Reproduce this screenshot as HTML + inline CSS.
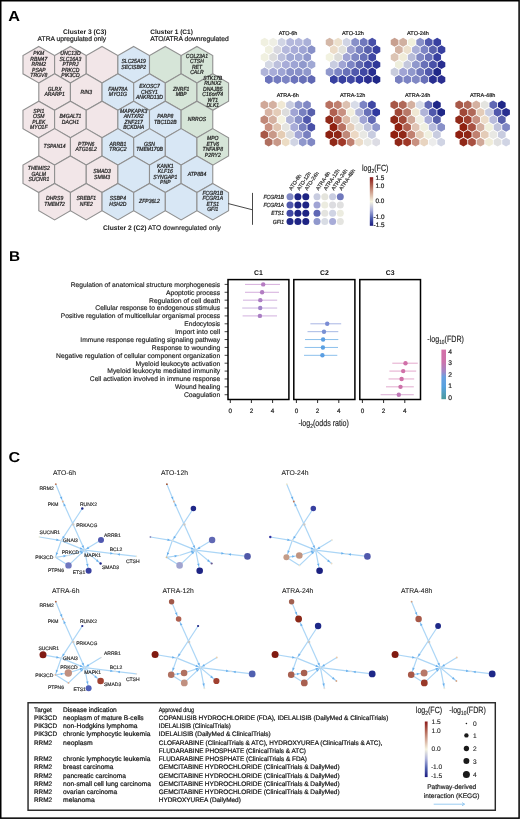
<!DOCTYPE html>
<html><head><meta charset="utf-8"><style>
html,body{margin:0;padding:0;background:#fff;}
body{width:520px;height:819px;overflow:hidden;}
svg{display:block;font-family:"Liberation Sans", sans-serif;will-change:transform;text-rendering:geometricPrecision;}
</style></head><body>
<svg width="520" height="819" viewBox="0 0 520 819">
<rect x="0" y="0" width="520" height="819" fill="#fff"/>
<text transform="translate(8.3,20.9) scale(1.13,1)" style="font-size:14.4px;font-weight:bold" fill="#000">A</text>
<text transform="translate(9.0,261.3) scale(1.08,1)" style="font-size:14.2px;font-weight:bold" fill="#000">B</text>
<text transform="translate(8.6,461.9) scale(1.12,1)" style="font-size:14.4px;font-weight:bold" fill="#000">C</text>
<text x="106.50" y="33.80" text-anchor="end" style="font-size:6.7px;font-weight:bold;" fill="#111" >Cluster 3 (C3)</text>
<text x="106.20" y="41.00" text-anchor="end" style="font-size:6.72px;" fill="#222"  stroke="#222" stroke-width="0.2">ATRA upregulated only</text>
<text x="150.30" y="33.50" text-anchor="start" style="font-size:6.55px;font-weight:bold;" fill="#111" >Cluster 1 (C1)</text>
<text x="150.30" y="41.00" text-anchor="start" style="font-size:6.75px;" fill="#222"  stroke="#222" stroke-width="0.2">ATO/ATRA downregulated</text>
<text x="103" y="230.3" style="font-size:6.7px" fill="#222" stroke="#222" stroke-width="0.15"><tspan font-weight="bold" stroke-width="0.05">Cluster 2 (C2)</tspan> ATO downregulated only</text>
<g stroke="#909090" stroke-width="1.1">
<polygon points="38.80,46.44 54.61,55.57 54.61,73.83 38.80,82.96 22.98,73.83 22.98,55.57" fill="#f2e6e8"/>
<polygon points="70.43,46.44 86.24,55.57 86.24,73.83 70.43,82.96 54.61,73.83 54.61,55.57" fill="#f2e6e8"/>
<polygon points="102.06,46.44 117.88,55.57 117.88,73.83 102.06,82.96 86.25,73.83 86.25,55.57" fill="#f2e6e8"/>
<polygon points="133.69,46.44 149.50,55.57 149.50,73.83 133.69,82.96 117.88,73.83 117.88,55.57" fill="#d8e7f5"/>
<polygon points="165.32,46.44 181.13,55.57 181.13,73.83 165.32,82.96 149.50,73.83 149.50,55.57" fill="#d6e5d8"/>
<polygon points="196.95,46.44 212.76,55.57 212.76,73.83 196.95,82.96 181.13,73.83 181.13,55.57" fill="#d6e5d8"/>
<polygon points="54.61,73.83 70.43,82.96 70.43,101.22 54.61,110.35 38.80,101.22 38.80,82.96" fill="#f2e6e8"/>
<polygon points="86.24,73.83 102.06,82.96 102.06,101.22 86.24,110.35 70.43,101.22 70.43,82.96" fill="#f2e6e8"/>
<polygon points="117.88,73.83 133.69,82.96 133.69,101.22 117.88,110.35 102.06,101.22 102.06,82.96" fill="#d8e7f5"/>
<polygon points="149.50,73.83 165.32,82.96 165.32,101.22 149.50,110.35 133.69,101.22 133.69,82.96" fill="#d8e7f5"/>
<polygon points="181.13,73.83 196.95,82.96 196.95,101.22 181.13,110.35 165.32,101.22 165.32,82.96" fill="#d6e5d8"/>
<polygon points="212.76,73.83 228.58,82.96 228.58,101.22 212.76,110.35 196.95,101.22 196.95,82.96" fill="#d6e5d8"/>
<polygon points="38.80,101.22 54.61,110.35 54.61,128.62 38.80,137.75 22.98,128.62 22.98,110.35" fill="#f2e6e8"/>
<polygon points="70.43,101.22 86.24,110.35 86.24,128.62 70.43,137.75 54.61,128.62 54.61,110.35" fill="#f2e6e8"/>
<polygon points="102.06,101.22 117.88,110.35 117.88,128.62 102.06,137.75 86.25,128.62 86.25,110.35" fill="#f2e6e8"/>
<polygon points="133.69,101.22 149.50,110.35 149.50,128.62 133.69,137.75 117.88,128.62 117.88,110.35" fill="#d8e7f5"/>
<polygon points="165.32,101.22 181.13,110.35 181.13,128.62 165.32,137.75 149.50,128.62 149.50,110.35" fill="#d8e7f5"/>
<polygon points="196.95,101.22 212.76,110.35 212.76,128.62 196.95,137.75 181.13,128.62 181.13,110.35" fill="#d6e5d8"/>
<polygon points="54.61,128.62 70.43,137.75 70.43,156.01 54.61,165.14 38.80,156.01 38.80,137.75" fill="#f2e6e8"/>
<polygon points="86.24,128.62 102.06,137.75 102.06,156.01 86.24,165.14 70.43,156.01 70.43,137.75" fill="#f2e6e8"/>
<polygon points="117.88,128.62 133.69,137.75 133.69,156.01 117.88,165.14 102.06,156.01 102.06,137.75" fill="#d8e7f5"/>
<polygon points="149.50,128.62 165.32,137.75 165.32,156.01 149.50,165.14 133.69,156.01 133.69,137.75" fill="#d8e7f5"/>
<polygon points="181.13,128.62 196.95,137.75 196.95,156.01 181.13,165.14 165.32,156.01 165.32,137.75" fill="#d8e7f5"/>
<polygon points="212.76,128.62 228.58,137.75 228.58,156.01 212.76,165.14 196.95,156.01 196.95,137.75" fill="#d6e5d8"/>
<polygon points="38.80,156.01 54.61,165.14 54.61,183.40 38.80,192.53 22.98,183.40 22.98,165.14" fill="#f2e6e8"/>
<polygon points="70.43,156.01 86.24,165.14 86.24,183.40 70.43,192.53 54.61,183.40 54.61,165.14" fill="#f2e6e8"/>
<polygon points="102.06,156.01 117.88,165.14 117.88,183.40 102.06,192.53 86.25,183.40 86.25,165.14" fill="#f2e6e8"/>
<polygon points="133.69,156.01 149.50,165.14 149.50,183.40 133.69,192.53 117.88,183.40 117.88,165.14" fill="#d8e7f5"/>
<polygon points="165.32,156.01 181.13,165.14 181.13,183.40 165.32,192.53 149.50,183.40 149.50,165.14" fill="#d8e7f5"/>
<polygon points="196.95,156.01 212.76,165.14 212.76,183.40 196.95,192.53 181.13,183.40 181.13,165.14" fill="#d8e7f5"/>
<polygon points="54.61,183.40 70.43,192.53 70.43,210.79 54.61,219.92 38.80,210.79 38.80,192.53" fill="#f2e6e8"/>
<polygon points="86.24,183.40 102.06,192.53 102.06,210.79 86.24,219.92 70.43,210.79 70.43,192.53" fill="#f2e6e8"/>
<polygon points="117.88,183.40 133.69,192.53 133.69,210.79 117.88,219.92 102.06,210.79 102.06,192.53" fill="#d8e7f5"/>
<polygon points="149.50,183.40 165.32,192.53 165.32,210.79 149.50,219.92 133.69,210.79 133.69,192.53" fill="#d8e7f5"/>
<polygon points="181.13,183.40 196.95,192.53 196.95,210.79 181.13,219.92 165.32,210.79 165.32,192.53" fill="#d8e7f5"/>
<polygon points="212.76,183.40 228.58,192.53 228.58,210.79 212.76,219.92 196.95,210.79 196.95,192.53" fill="#d8e7f5"/>
</g>
<text transform="translate(38.80,55.20) scale(0.86,1)" text-anchor="middle" style="font-size:5.9px;font-style:italic;" fill="#222"  stroke="#222" stroke-width="0.24">PKM</text>
<text transform="translate(38.80,60.70) scale(0.86,1)" text-anchor="middle" style="font-size:5.9px;font-style:italic;" fill="#222"  stroke="#222" stroke-width="0.24">RBM47</text>
<text transform="translate(38.80,66.20) scale(0.86,1)" text-anchor="middle" style="font-size:5.9px;font-style:italic;" fill="#222"  stroke="#222" stroke-width="0.24">RRM2</text>
<text transform="translate(38.80,71.70) scale(0.86,1)" text-anchor="middle" style="font-size:5.9px;font-style:italic;" fill="#222"  stroke="#222" stroke-width="0.24">PSAP</text>
<text transform="translate(38.80,77.20) scale(0.86,1)" text-anchor="middle" style="font-size:5.9px;font-style:italic;" fill="#222"  stroke="#222" stroke-width="0.24">TRGV8</text>
<text transform="translate(70.43,55.20) scale(0.86,1)" text-anchor="middle" style="font-size:5.9px;font-style:italic;" fill="#222"  stroke="#222" stroke-width="0.24">UNC13D</text>
<text transform="translate(70.43,60.70) scale(0.86,1)" text-anchor="middle" style="font-size:5.9px;font-style:italic;" fill="#222"  stroke="#222" stroke-width="0.24">SLC16A3</text>
<text transform="translate(70.43,66.20) scale(0.86,1)" text-anchor="middle" style="font-size:5.9px;font-style:italic;" fill="#222"  stroke="#222" stroke-width="0.24">PTPRJ</text>
<text transform="translate(70.43,71.70) scale(0.86,1)" text-anchor="middle" style="font-size:5.9px;font-style:italic;" fill="#222"  stroke="#222" stroke-width="0.24">PRKCD</text>
<text transform="translate(70.43,77.20) scale(0.86,1)" text-anchor="middle" style="font-size:5.9px;font-style:italic;" fill="#222"  stroke="#222" stroke-width="0.24">PIK3CD</text>
<text transform="translate(133.69,63.45) scale(0.86,1)" text-anchor="middle" style="font-size:5.9px;font-style:italic;" fill="#222"  stroke="#222" stroke-width="0.24">SLC25A19</text>
<text transform="translate(133.69,68.95) scale(0.86,1)" text-anchor="middle" style="font-size:5.9px;font-style:italic;" fill="#222"  stroke="#222" stroke-width="0.24">SECISBP2</text>
<text transform="translate(196.95,57.95) scale(0.86,1)" text-anchor="middle" style="font-size:5.9px;font-style:italic;" fill="#222"  stroke="#222" stroke-width="0.24">COL23A1</text>
<text transform="translate(196.95,63.45) scale(0.86,1)" text-anchor="middle" style="font-size:5.9px;font-style:italic;" fill="#222"  stroke="#222" stroke-width="0.24">CTSH</text>
<text transform="translate(196.95,68.95) scale(0.86,1)" text-anchor="middle" style="font-size:5.9px;font-style:italic;" fill="#222"  stroke="#222" stroke-width="0.24">RET</text>
<text transform="translate(196.95,74.45) scale(0.86,1)" text-anchor="middle" style="font-size:5.9px;font-style:italic;" fill="#222"  stroke="#222" stroke-width="0.24">CALR</text>
<text transform="translate(54.61,90.84) scale(0.86,1)" text-anchor="middle" style="font-size:5.9px;font-style:italic;" fill="#222"  stroke="#222" stroke-width="0.24">GLRX</text>
<text transform="translate(54.61,96.34) scale(0.86,1)" text-anchor="middle" style="font-size:5.9px;font-style:italic;" fill="#222"  stroke="#222" stroke-width="0.24">ARARP1</text>
<text transform="translate(86.24,93.59) scale(0.86,1)" text-anchor="middle" style="font-size:5.9px;font-style:italic;" fill="#222"  stroke="#222" stroke-width="0.24">RIN3</text>
<text transform="translate(117.88,90.84) scale(0.86,1)" text-anchor="middle" style="font-size:5.9px;font-style:italic;" fill="#222"  stroke="#222" stroke-width="0.24">FAM78A</text>
<text transform="translate(117.88,96.34) scale(0.86,1)" text-anchor="middle" style="font-size:5.9px;font-style:italic;" fill="#222"  stroke="#222" stroke-width="0.24">MYO1G</text>
<text transform="translate(149.50,88.09) scale(0.86,1)" text-anchor="middle" style="font-size:5.9px;font-style:italic;" fill="#222"  stroke="#222" stroke-width="0.24">EXOSC7</text>
<text transform="translate(149.50,93.59) scale(0.86,1)" text-anchor="middle" style="font-size:5.9px;font-style:italic;" fill="#222"  stroke="#222" stroke-width="0.24">CHSY1</text>
<text transform="translate(149.50,99.09) scale(0.86,1)" text-anchor="middle" style="font-size:5.9px;font-style:italic;" fill="#222"  stroke="#222" stroke-width="0.24">ANKRD13D</text>
<text transform="translate(181.13,90.84) scale(0.86,1)" text-anchor="middle" style="font-size:5.9px;font-style:italic;" fill="#222"  stroke="#222" stroke-width="0.24">ZNRF1</text>
<text transform="translate(181.13,96.34) scale(0.86,1)" text-anchor="middle" style="font-size:5.9px;font-style:italic;" fill="#222"  stroke="#222" stroke-width="0.24">MBP</text>
<text transform="translate(212.76,79.84) scale(0.86,1)" text-anchor="middle" style="font-size:5.9px;font-style:italic;" fill="#222"  stroke="#222" stroke-width="0.24">STK17B</text>
<text transform="translate(212.76,85.34) scale(0.86,1)" text-anchor="middle" style="font-size:5.9px;font-style:italic;" fill="#222"  stroke="#222" stroke-width="0.24">RUNX2</text>
<text transform="translate(212.76,90.84) scale(0.86,1)" text-anchor="middle" style="font-size:5.9px;font-style:italic;" fill="#222"  stroke="#222" stroke-width="0.24">DNAJB5</text>
<text transform="translate(212.76,96.34) scale(0.86,1)" text-anchor="middle" style="font-size:5.9px;font-style:italic;" fill="#222"  stroke="#222" stroke-width="0.24">C16orf74</text>
<text transform="translate(212.76,101.84) scale(0.86,1)" text-anchor="middle" style="font-size:5.9px;font-style:italic;" fill="#222"  stroke="#222" stroke-width="0.24">WT1</text>
<text transform="translate(212.76,107.34) scale(0.86,1)" text-anchor="middle" style="font-size:5.9px;font-style:italic;" fill="#222"  stroke="#222" stroke-width="0.24">DLK1</text>
<text transform="translate(38.80,112.73) scale(0.86,1)" text-anchor="middle" style="font-size:5.9px;font-style:italic;" fill="#222"  stroke="#222" stroke-width="0.24">SPI1</text>
<text transform="translate(38.80,118.23) scale(0.86,1)" text-anchor="middle" style="font-size:5.9px;font-style:italic;" fill="#222"  stroke="#222" stroke-width="0.24">OSM</text>
<text transform="translate(38.80,123.73) scale(0.86,1)" text-anchor="middle" style="font-size:5.9px;font-style:italic;" fill="#222"  stroke="#222" stroke-width="0.24">PLEK</text>
<text transform="translate(38.80,129.23) scale(0.86,1)" text-anchor="middle" style="font-size:5.9px;font-style:italic;" fill="#222"  stroke="#222" stroke-width="0.24">MYO1F</text>
<text transform="translate(70.43,118.23) scale(0.86,1)" text-anchor="middle" style="font-size:5.9px;font-style:italic;" fill="#222"  stroke="#222" stroke-width="0.24">B4GALT1</text>
<text transform="translate(70.43,123.73) scale(0.86,1)" text-anchor="middle" style="font-size:5.9px;font-style:italic;" fill="#222"  stroke="#222" stroke-width="0.24">DACH1</text>
<text transform="translate(133.69,112.73) scale(0.86,1)" text-anchor="middle" style="font-size:5.9px;font-style:italic;" fill="#222"  stroke="#222" stroke-width="0.24">MAPKAPK3</text>
<text transform="translate(133.69,118.23) scale(0.86,1)" text-anchor="middle" style="font-size:5.9px;font-style:italic;" fill="#222"  stroke="#222" stroke-width="0.24">ANTXR2</text>
<text transform="translate(133.69,123.73) scale(0.86,1)" text-anchor="middle" style="font-size:5.9px;font-style:italic;" fill="#222"  stroke="#222" stroke-width="0.24">ZNF217</text>
<text transform="translate(133.69,129.23) scale(0.86,1)" text-anchor="middle" style="font-size:5.9px;font-style:italic;" fill="#222"  stroke="#222" stroke-width="0.24">BCKDHA</text>
<text transform="translate(165.32,118.23) scale(0.86,1)" text-anchor="middle" style="font-size:5.9px;font-style:italic;" fill="#222"  stroke="#222" stroke-width="0.24">PARP8</text>
<text transform="translate(165.32,123.73) scale(0.86,1)" text-anchor="middle" style="font-size:5.9px;font-style:italic;" fill="#222"  stroke="#222" stroke-width="0.24">TBC1D2B</text>
<text transform="translate(196.95,120.98) scale(0.86,1)" text-anchor="middle" style="font-size:5.9px;font-style:italic;" fill="#222"  stroke="#222" stroke-width="0.24">NRROS</text>
<text transform="translate(54.61,148.38) scale(0.86,1)" text-anchor="middle" style="font-size:5.9px;font-style:italic;" fill="#222"  stroke="#222" stroke-width="0.24">TSPAN14</text>
<text transform="translate(86.24,145.63) scale(0.86,1)" text-anchor="middle" style="font-size:5.9px;font-style:italic;" fill="#222"  stroke="#222" stroke-width="0.24">PTPN6</text>
<text transform="translate(86.24,151.13) scale(0.86,1)" text-anchor="middle" style="font-size:5.9px;font-style:italic;" fill="#222"  stroke="#222" stroke-width="0.24">ATG16L2</text>
<text transform="translate(117.88,145.63) scale(0.86,1)" text-anchor="middle" style="font-size:5.9px;font-style:italic;" fill="#222"  stroke="#222" stroke-width="0.24">ARRB1</text>
<text transform="translate(117.88,151.13) scale(0.86,1)" text-anchor="middle" style="font-size:5.9px;font-style:italic;" fill="#222"  stroke="#222" stroke-width="0.24">TRGC2</text>
<text transform="translate(149.50,145.63) scale(0.86,1)" text-anchor="middle" style="font-size:5.9px;font-style:italic;" fill="#222"  stroke="#222" stroke-width="0.24">GSN</text>
<text transform="translate(149.50,151.13) scale(0.86,1)" text-anchor="middle" style="font-size:5.9px;font-style:italic;" fill="#222"  stroke="#222" stroke-width="0.24">TMEM170B</text>
<text transform="translate(212.76,140.13) scale(0.86,1)" text-anchor="middle" style="font-size:5.9px;font-style:italic;" fill="#222"  stroke="#222" stroke-width="0.24">MPO</text>
<text transform="translate(212.76,145.63) scale(0.86,1)" text-anchor="middle" style="font-size:5.9px;font-style:italic;" fill="#222"  stroke="#222" stroke-width="0.24">ETV6</text>
<text transform="translate(212.76,151.13) scale(0.86,1)" text-anchor="middle" style="font-size:5.9px;font-style:italic;" fill="#222"  stroke="#222" stroke-width="0.24">TNFAIP8</text>
<text transform="translate(212.76,156.63) scale(0.86,1)" text-anchor="middle" style="font-size:5.9px;font-style:italic;" fill="#222"  stroke="#222" stroke-width="0.24">P2RY2</text>
<text transform="translate(38.80,170.27) scale(0.86,1)" text-anchor="middle" style="font-size:5.9px;font-style:italic;" fill="#222"  stroke="#222" stroke-width="0.24">THEMIS2</text>
<text transform="translate(38.80,175.77) scale(0.86,1)" text-anchor="middle" style="font-size:5.9px;font-style:italic;" fill="#222"  stroke="#222" stroke-width="0.24">GALM</text>
<text transform="translate(38.80,181.27) scale(0.86,1)" text-anchor="middle" style="font-size:5.9px;font-style:italic;" fill="#222"  stroke="#222" stroke-width="0.24">SUCNR1</text>
<text transform="translate(102.06,173.02) scale(0.86,1)" text-anchor="middle" style="font-size:5.9px;font-style:italic;" fill="#222"  stroke="#222" stroke-width="0.24">SMAD3</text>
<text transform="translate(102.06,178.52) scale(0.86,1)" text-anchor="middle" style="font-size:5.9px;font-style:italic;" fill="#222"  stroke="#222" stroke-width="0.24">SMIM3</text>
<text transform="translate(165.32,167.52) scale(0.86,1)" text-anchor="middle" style="font-size:5.9px;font-style:italic;" fill="#222"  stroke="#222" stroke-width="0.24">KANK1</text>
<text transform="translate(165.32,173.02) scale(0.86,1)" text-anchor="middle" style="font-size:5.9px;font-style:italic;" fill="#222"  stroke="#222" stroke-width="0.24">KLF16</text>
<text transform="translate(165.32,178.52) scale(0.86,1)" text-anchor="middle" style="font-size:5.9px;font-style:italic;" fill="#222"  stroke="#222" stroke-width="0.24">SYNGAP1</text>
<text transform="translate(165.32,184.02) scale(0.86,1)" text-anchor="middle" style="font-size:5.9px;font-style:italic;" fill="#222"  stroke="#222" stroke-width="0.24">PNP</text>
<text transform="translate(196.95,175.77) scale(0.86,1)" text-anchor="middle" style="font-size:5.9px;font-style:italic;" fill="#222"  stroke="#222" stroke-width="0.24">ATP8B4</text>
<text transform="translate(54.61,200.41) scale(0.86,1)" text-anchor="middle" style="font-size:5.9px;font-style:italic;" fill="#222"  stroke="#222" stroke-width="0.24">DHRS9</text>
<text transform="translate(54.61,205.91) scale(0.86,1)" text-anchor="middle" style="font-size:5.9px;font-style:italic;" fill="#222"  stroke="#222" stroke-width="0.24">TMEM72</text>
<text transform="translate(86.24,200.41) scale(0.86,1)" text-anchor="middle" style="font-size:5.9px;font-style:italic;" fill="#222"  stroke="#222" stroke-width="0.24">SREBF1</text>
<text transform="translate(86.24,205.91) scale(0.86,1)" text-anchor="middle" style="font-size:5.9px;font-style:italic;" fill="#222"  stroke="#222" stroke-width="0.24">NFE2</text>
<text transform="translate(117.88,200.41) scale(0.86,1)" text-anchor="middle" style="font-size:5.9px;font-style:italic;" fill="#222"  stroke="#222" stroke-width="0.24">SSBP4</text>
<text transform="translate(117.88,205.91) scale(0.86,1)" text-anchor="middle" style="font-size:5.9px;font-style:italic;" fill="#222"  stroke="#222" stroke-width="0.24">HSH2D</text>
<text transform="translate(149.50,203.16) scale(0.86,1)" text-anchor="middle" style="font-size:5.9px;font-style:italic;" fill="#222"  stroke="#222" stroke-width="0.24">ZFP36L2</text>
<text transform="translate(212.76,194.91) scale(0.86,1)" text-anchor="middle" style="font-size:5.9px;font-style:italic;" fill="#222"  stroke="#222" stroke-width="0.24">FCGR1B</text>
<text transform="translate(212.76,200.41) scale(0.86,1)" text-anchor="middle" style="font-size:5.9px;font-style:italic;" fill="#222"  stroke="#222" stroke-width="0.24">FCGR1A</text>
<text transform="translate(212.76,205.91) scale(0.86,1)" text-anchor="middle" style="font-size:5.9px;font-style:italic;" fill="#222"  stroke="#222" stroke-width="0.24">ETS1</text>
<text transform="translate(212.76,211.41) scale(0.86,1)" text-anchor="middle" style="font-size:5.9px;font-style:italic;" fill="#222"  stroke="#222" stroke-width="0.24">GFI1</text>
<path d="M228.3,203.6 L252.5,209.8 M252.5,192.9 L252.5,224.8" stroke="#333" stroke-width="0.9" fill="none"/>
<polygon points="264.60,37.85 268.45,40.07 268.45,44.52 264.60,46.75 260.75,44.52 260.75,40.07" fill="#f0f0e0"/>
<polygon points="273.12,37.85 276.97,40.07 276.97,44.52 273.12,46.75 269.27,44.52 269.27,40.07" fill="#eeeee4"/>
<polygon points="281.64,37.85 285.49,40.07 285.49,44.52 281.64,46.75 277.79,44.52 277.79,40.07" fill="#d0d4e4"/>
<polygon points="290.16,37.85 294.01,40.07 294.01,44.52 290.16,46.75 286.31,44.52 286.31,40.07" fill="#b4b8dc"/>
<polygon points="298.68,37.85 302.53,40.07 302.53,44.52 298.68,46.75 294.83,44.52 294.83,40.07" fill="#b4b8dc"/>
<polygon points="307.20,37.85 311.05,40.07 311.05,44.52 307.20,46.75 303.35,44.52 303.35,40.07" fill="#aab0d8"/>
<polygon points="268.86,45.29 272.71,47.51 272.71,51.96 268.86,54.19 265.01,51.96 265.01,47.51" fill="#f0f0e0"/>
<polygon points="277.38,45.29 281.23,47.51 281.23,51.96 277.38,54.19 273.53,51.96 273.53,47.51" fill="#d8d8e0"/>
<polygon points="285.90,45.29 289.75,47.51 289.75,51.96 285.90,54.19 282.05,51.96 282.05,47.51" fill="#b4b8dc"/>
<polygon points="294.42,45.29 298.27,47.51 298.27,51.96 294.42,54.19 290.57,51.96 290.57,47.51" fill="#a8acd8"/>
<polygon points="302.94,45.29 306.79,47.51 306.79,51.96 302.94,54.19 299.09,51.96 299.09,47.51" fill="#9ea4d4"/>
<polygon points="311.46,45.29 315.31,47.51 315.31,51.96 311.46,54.19 307.61,51.96 307.61,47.51" fill="#8890c8"/>
<polygon points="264.60,52.73 268.45,54.95 268.45,59.41 264.60,61.63 260.75,59.41 260.75,54.95" fill="#f0f0e0"/>
<polygon points="273.12,52.73 276.97,54.95 276.97,59.41 273.12,61.63 269.27,59.41 269.27,54.95" fill="#dcdcdc"/>
<polygon points="281.64,52.73 285.49,54.95 285.49,59.41 281.64,61.63 277.79,59.41 277.79,54.95" fill="#bcc0dc"/>
<polygon points="290.16,52.73 294.01,54.95 294.01,59.41 290.16,61.63 286.31,59.41 286.31,54.95" fill="#a0a8d4"/>
<polygon points="298.68,52.73 302.53,54.95 302.53,59.41 298.68,61.63 294.83,59.41 294.83,54.95" fill="#a0a8d4"/>
<polygon points="307.20,52.73 311.05,54.95 311.05,59.41 307.20,61.63 303.35,59.41 303.35,54.95" fill="#9098cc"/>
<polygon points="268.86,60.17 272.71,62.40 272.71,66.84 268.86,69.07 265.01,66.84 265.01,62.40" fill="#d4d8e4"/>
<polygon points="277.38,60.17 281.23,62.40 281.23,66.84 277.38,69.07 273.53,66.84 273.53,62.40" fill="#bcc0dc"/>
<polygon points="285.90,60.17 289.75,62.40 289.75,66.84 285.90,69.07 282.05,66.84 282.05,62.40" fill="#a8acd8"/>
<polygon points="294.42,60.17 298.27,62.40 298.27,66.84 294.42,69.07 290.57,66.84 290.57,62.40" fill="#9ea4d4"/>
<polygon points="302.94,60.17 306.79,62.40 306.79,66.84 302.94,69.07 299.09,66.84 299.09,62.40" fill="#9098cc"/>
<polygon points="311.46,60.17 315.31,62.40 315.31,66.84 311.46,69.07 307.61,66.84 307.61,62.40" fill="#a0a8d4"/>
<polygon points="264.60,67.61 268.45,69.84 268.45,74.28 264.60,76.51 260.75,74.28 260.75,69.84" fill="#b0b4d8"/>
<polygon points="273.12,67.61 276.97,69.84 276.97,74.28 273.12,76.51 269.27,74.28 269.27,69.84" fill="#a8acd8"/>
<polygon points="281.64,67.61 285.49,69.84 285.49,74.28 281.64,76.51 277.79,74.28 277.79,69.84" fill="#9ea4d4"/>
<polygon points="290.16,67.61 294.01,69.84 294.01,74.28 290.16,76.51 286.31,74.28 286.31,69.84" fill="#8890c8"/>
<polygon points="298.68,67.61 302.53,69.84 302.53,74.28 298.68,76.51 294.83,74.28 294.83,69.84" fill="#8890c8"/>
<polygon points="307.20,67.61 311.05,69.84 311.05,74.28 307.20,76.51 303.35,74.28 303.35,69.84" fill="#9098cc"/>
<polygon points="268.86,75.05 272.71,77.28 272.71,81.72 268.86,83.95 265.01,81.72 265.01,77.28" fill="#6c74bc"/>
<polygon points="277.38,75.05 281.23,77.28 281.23,81.72 277.38,83.95 273.53,81.72 273.53,77.28" fill="#747cc0"/>
<polygon points="285.90,75.05 289.75,77.28 289.75,81.72 285.90,83.95 282.05,81.72 282.05,77.28" fill="#7c84c4"/>
<polygon points="294.42,75.05 298.27,77.28 298.27,81.72 294.42,83.95 290.57,81.72 290.57,77.28" fill="#6c74bc"/>
<polygon points="302.94,75.05 306.79,77.28 306.79,81.72 302.94,83.95 299.09,81.72 299.09,77.28" fill="#6870b8"/>
<polygon points="311.46,75.05 315.31,77.28 315.31,81.72 311.46,83.95 307.61,81.72 307.61,77.28" fill="#6068b4"/>
<text x="288.03" y="34.80" text-anchor="middle" style="font-size:5.5px;" fill="#222"  stroke="#222" stroke-width="0.2">ATO-6h</text>
<polygon points="329.60,37.85 333.45,40.07 333.45,44.52 329.60,46.75 325.75,44.52 325.75,40.07" fill="#d4b8a8"/>
<polygon points="338.12,37.85 341.97,40.07 341.97,44.52 338.12,46.75 334.27,44.52 334.27,40.07" fill="#ece0cc"/>
<polygon points="346.64,37.85 350.49,40.07 350.49,44.52 346.64,46.75 342.79,44.52 342.79,40.07" fill="#d0d4e4"/>
<polygon points="355.16,37.85 359.01,40.07 359.01,44.52 355.16,46.75 351.31,44.52 351.31,40.07" fill="#8890c8"/>
<polygon points="363.68,37.85 367.53,40.07 367.53,44.52 363.68,46.75 359.83,44.52 359.83,40.07" fill="#7078bc"/>
<polygon points="372.20,37.85 376.05,40.07 376.05,44.52 372.20,46.75 368.35,44.52 368.35,40.07" fill="#4850a8"/>
<polygon points="333.86,45.29 337.71,47.51 337.71,51.96 333.86,54.19 330.01,51.96 330.01,47.51" fill="#ecdcc8"/>
<polygon points="342.38,45.29 346.23,47.51 346.23,51.96 342.38,54.19 338.53,51.96 338.53,47.51" fill="#e0e0dc"/>
<polygon points="350.90,45.29 354.75,47.51 354.75,51.96 350.90,54.19 347.05,51.96 347.05,47.51" fill="#9ca0d0"/>
<polygon points="359.42,45.29 363.27,47.51 363.27,51.96 359.42,54.19 355.57,51.96 355.57,47.51" fill="#7880c0"/>
<polygon points="367.94,45.29 371.79,47.51 371.79,51.96 367.94,54.19 364.09,51.96 364.09,47.51" fill="#5860ac"/>
<polygon points="376.46,45.29 380.31,47.51 380.31,51.96 376.46,54.19 372.61,51.96 372.61,47.51" fill="#3840a0"/>
<polygon points="329.60,52.73 333.45,54.95 333.45,59.41 329.60,61.63 325.75,59.41 325.75,54.95" fill="#f2f2e0"/>
<polygon points="338.12,52.73 341.97,54.95 341.97,59.41 338.12,61.63 334.27,59.41 334.27,54.95" fill="#dcdcd8"/>
<polygon points="346.64,52.73 350.49,54.95 350.49,59.41 346.64,61.63 342.79,59.41 342.79,54.95" fill="#a0a4d4"/>
<polygon points="355.16,52.73 359.01,54.95 359.01,59.41 355.16,61.63 351.31,59.41 351.31,54.95" fill="#8088c4"/>
<polygon points="363.68,52.73 367.53,54.95 367.53,59.41 363.68,61.63 359.83,59.41 359.83,54.95" fill="#6870b8"/>
<polygon points="372.20,52.73 376.05,54.95 376.05,59.41 372.20,61.63 368.35,59.41 368.35,54.95" fill="#4048a4"/>
<polygon points="333.86,60.17 337.71,62.40 337.71,66.84 333.86,69.07 330.01,66.84 330.01,62.40" fill="#c8cce0"/>
<polygon points="342.38,60.17 346.23,62.40 346.23,66.84 342.38,69.07 338.53,66.84 338.53,62.40" fill="#a0a4d4"/>
<polygon points="350.90,60.17 354.75,62.40 354.75,66.84 350.90,69.07 347.05,66.84 347.05,62.40" fill="#7c84c4"/>
<polygon points="359.42,60.17 363.27,62.40 363.27,66.84 359.42,69.07 355.57,66.84 355.57,62.40" fill="#6068b0"/>
<polygon points="367.94,60.17 371.79,62.40 371.79,66.84 367.94,69.07 364.09,66.84 364.09,62.40" fill="#4048a4"/>
<polygon points="376.46,60.17 380.31,62.40 380.31,66.84 376.46,69.07 372.61,66.84 372.61,62.40" fill="#303898"/>
<polygon points="329.60,67.61 333.45,69.84 333.45,74.28 329.60,76.51 325.75,74.28 325.75,69.84" fill="#9098cc"/>
<polygon points="338.12,67.61 341.97,69.84 341.97,74.28 338.12,76.51 334.27,74.28 334.27,69.84" fill="#7c84c4"/>
<polygon points="346.64,67.61 350.49,69.84 350.49,74.28 346.64,76.51 342.79,74.28 342.79,69.84" fill="#6870b8"/>
<polygon points="355.16,67.61 359.01,69.84 359.01,74.28 355.16,76.51 351.31,74.28 351.31,69.84" fill="#5058ac"/>
<polygon points="363.68,67.61 367.53,69.84 367.53,74.28 363.68,76.51 359.83,74.28 359.83,69.84" fill="#4048a4"/>
<polygon points="372.20,67.61 376.05,69.84 376.05,74.28 372.20,76.51 368.35,74.28 368.35,69.84" fill="#282e90"/>
<polygon points="333.86,75.05 337.71,77.28 337.71,81.72 333.86,83.95 330.01,81.72 330.01,77.28" fill="#3840a0"/>
<polygon points="342.38,75.05 346.23,77.28 346.23,81.72 342.38,83.95 338.53,81.72 338.53,77.28" fill="#3840a0"/>
<polygon points="350.90,75.05 354.75,77.28 354.75,81.72 350.90,83.95 347.05,81.72 347.05,77.28" fill="#4048a4"/>
<polygon points="359.42,75.05 363.27,77.28 363.27,81.72 359.42,83.95 355.57,81.72 355.57,77.28" fill="#3038a0"/>
<polygon points="367.94,75.05 371.79,77.28 371.79,81.72 367.94,83.95 364.09,81.72 364.09,77.28" fill="#2a2e90"/>
<polygon points="376.46,75.05 380.31,77.28 380.31,81.72 376.46,83.95 372.61,81.72 372.61,77.28" fill="#202888"/>
<text x="353.03" y="34.80" text-anchor="middle" style="font-size:5.5px;" fill="#222"  stroke="#222" stroke-width="0.2">ATO-12h</text>
<polygon points="394.60,37.85 398.45,40.07 398.45,44.52 394.60,46.75 390.75,44.52 390.75,40.07" fill="#c8a090"/>
<polygon points="403.12,37.85 406.97,40.07 406.97,44.52 403.12,46.75 399.27,44.52 399.27,40.07" fill="#d0b0a0"/>
<polygon points="411.64,37.85 415.49,40.07 415.49,44.52 411.64,46.75 407.79,44.52 407.79,40.07" fill="#f0f0dc"/>
<polygon points="420.16,37.85 424.01,40.07 424.01,44.52 420.16,46.75 416.31,44.52 416.31,40.07" fill="#8890c8"/>
<polygon points="428.68,37.85 432.53,40.07 432.53,44.52 428.68,46.75 424.83,44.52 424.83,40.07" fill="#5058ac"/>
<polygon points="437.20,37.85 441.05,40.07 441.05,44.52 437.20,46.75 433.35,44.52 433.35,40.07" fill="#3840a0"/>
<polygon points="398.86,45.29 402.71,47.51 402.71,51.96 398.86,54.19 395.01,51.96 395.01,47.51" fill="#d4b4a4"/>
<polygon points="407.38,45.29 411.23,47.51 411.23,51.96 407.38,54.19 403.53,51.96 403.53,47.51" fill="#ece0cc"/>
<polygon points="415.90,45.29 419.75,47.51 419.75,51.96 415.90,54.19 412.05,51.96 412.05,47.51" fill="#aab0d8"/>
<polygon points="424.42,45.29 428.27,47.51 428.27,51.96 424.42,54.19 420.57,51.96 420.57,47.51" fill="#7c84c4"/>
<polygon points="432.94,45.29 436.79,47.51 436.79,51.96 432.94,54.19 429.09,51.96 429.09,47.51" fill="#5860ac"/>
<polygon points="441.46,45.29 445.31,47.51 445.31,51.96 441.46,54.19 437.61,51.96 437.61,47.51" fill="#3840a0"/>
<polygon points="394.60,52.73 398.45,54.95 398.45,59.41 394.60,61.63 390.75,59.41 390.75,54.95" fill="#dcc4b4"/>
<polygon points="403.12,52.73 406.97,54.95 406.97,59.41 403.12,61.63 399.27,59.41 399.27,54.95" fill="#f0ecd8"/>
<polygon points="411.64,52.73 415.49,54.95 415.49,59.41 411.64,61.63 407.79,59.41 407.79,54.95" fill="#b8bcd8"/>
<polygon points="420.16,52.73 424.01,54.95 424.01,59.41 420.16,61.63 416.31,59.41 416.31,54.95" fill="#8088c4"/>
<polygon points="428.68,52.73 432.53,54.95 432.53,59.41 428.68,61.63 424.83,59.41 424.83,54.95" fill="#6870b8"/>
<polygon points="437.20,52.73 441.05,54.95 441.05,59.41 437.20,61.63 433.35,59.41 433.35,54.95" fill="#3840a0"/>
<polygon points="398.86,60.17 402.71,62.40 402.71,66.84 398.86,69.07 395.01,66.84 395.01,62.40" fill="#eeeedc"/>
<polygon points="407.38,60.17 411.23,62.40 411.23,66.84 407.38,69.07 403.53,66.84 403.53,62.40" fill="#c4c8dc"/>
<polygon points="415.90,60.17 419.75,62.40 419.75,66.84 415.90,69.07 412.05,66.84 412.05,62.40" fill="#9098cc"/>
<polygon points="424.42,60.17 428.27,62.40 428.27,66.84 424.42,69.07 420.57,66.84 420.57,62.40" fill="#6870b8"/>
<polygon points="432.94,60.17 436.79,62.40 436.79,66.84 432.94,69.07 429.09,66.84 429.09,62.40" fill="#4850a8"/>
<polygon points="441.46,60.17 445.31,62.40 445.31,66.84 441.46,69.07 437.61,66.84 437.61,62.40" fill="#282e90"/>
<polygon points="394.60,67.61 398.45,69.84 398.45,74.28 394.60,76.51 390.75,74.28 390.75,69.84" fill="#c8ccdc"/>
<polygon points="403.12,67.61 406.97,69.84 406.97,74.28 403.12,76.51 399.27,74.28 399.27,69.84" fill="#a0a4d4"/>
<polygon points="411.64,67.61 415.49,69.84 415.49,74.28 411.64,76.51 407.79,74.28 407.79,69.84" fill="#9098cc"/>
<polygon points="420.16,67.61 424.01,69.84 424.01,74.28 420.16,76.51 416.31,74.28 416.31,69.84" fill="#7078bc"/>
<polygon points="428.68,67.61 432.53,69.84 432.53,74.28 428.68,76.51 424.83,74.28 424.83,69.84" fill="#5058ac"/>
<polygon points="437.20,67.61 441.05,69.84 441.05,74.28 437.20,76.51 433.35,74.28 433.35,69.84" fill="#202888"/>
<polygon points="398.86,75.05 402.71,77.28 402.71,81.72 398.86,83.95 395.01,81.72 395.01,77.28" fill="#7880c0"/>
<polygon points="407.38,75.05 411.23,77.28 411.23,81.72 407.38,83.95 403.53,81.72 403.53,77.28" fill="#7c84c4"/>
<polygon points="415.90,75.05 419.75,77.28 419.75,81.72 415.90,83.95 412.05,81.72 412.05,77.28" fill="#8088c4"/>
<polygon points="424.42,75.05 428.27,77.28 428.27,81.72 424.42,83.95 420.57,81.72 420.57,77.28" fill="#6870b8"/>
<polygon points="432.94,75.05 436.79,77.28 436.79,81.72 432.94,83.95 429.09,81.72 429.09,77.28" fill="#282e90"/>
<polygon points="441.46,75.05 445.31,77.28 445.31,81.72 441.46,83.95 437.61,81.72 437.61,77.28" fill="#2a2e90"/>
<text x="418.03" y="34.80" text-anchor="middle" style="font-size:5.5px;" fill="#222"  stroke="#222" stroke-width="0.2">ATO-24h</text>
<polygon points="264.40,100.45 268.25,102.68 268.25,107.12 264.40,109.35 260.55,107.12 260.55,102.68" fill="#d0a898"/>
<polygon points="272.92,100.45 276.77,102.68 276.77,107.12 272.92,109.35 269.07,107.12 269.07,102.68" fill="#d4b0a0"/>
<polygon points="281.44,100.45 285.29,102.68 285.29,107.12 281.44,109.35 277.59,107.12 277.59,102.68" fill="#f0e8d4"/>
<polygon points="289.96,100.45 293.81,102.68 293.81,107.12 289.96,109.35 286.11,107.12 286.11,102.68" fill="#c8cce0"/>
<polygon points="298.48,100.45 302.33,102.68 302.33,107.12 298.48,109.35 294.63,107.12 294.63,102.68" fill="#9098cc"/>
<polygon points="307.00,100.45 310.85,102.68 310.85,107.12 307.00,109.35 303.15,107.12 303.15,102.68" fill="#8088c4"/>
<polygon points="268.66,107.89 272.51,110.12 272.51,114.56 268.66,116.79 264.81,114.56 264.81,110.12" fill="#d8b4a4"/>
<polygon points="277.18,107.89 281.03,110.12 281.03,114.56 277.18,116.79 273.33,114.56 273.33,110.12" fill="#e4ccb8"/>
<polygon points="285.70,107.89 289.55,110.12 289.55,114.56 285.70,116.79 281.85,114.56 281.85,110.12" fill="#dcdcdc"/>
<polygon points="294.22,107.89 298.07,110.12 298.07,114.56 294.22,116.79 290.37,114.56 290.37,110.12" fill="#a0a4d4"/>
<polygon points="302.74,107.89 306.59,110.12 306.59,114.56 302.74,116.79 298.89,114.56 298.89,110.12" fill="#7880c0"/>
<polygon points="311.26,107.89 315.11,110.12 315.11,114.56 311.26,116.79 307.41,114.56 307.41,110.12" fill="#5860ac"/>
<polygon points="264.40,115.33 268.25,117.56 268.25,122.00 264.40,124.23 260.55,122.00 260.55,117.56" fill="#c08878"/>
<polygon points="272.92,115.33 276.77,117.56 276.77,122.00 272.92,124.23 269.07,122.00 269.07,117.56" fill="#d4b0a0"/>
<polygon points="281.44,115.33 285.29,117.56 285.29,122.00 281.44,124.23 277.59,122.00 277.59,117.56" fill="#f4f2e0"/>
<polygon points="289.96,115.33 293.81,117.56 293.81,122.00 289.96,124.23 286.11,122.00 286.11,117.56" fill="#b0b4d8"/>
<polygon points="298.48,115.33 302.33,117.56 302.33,122.00 298.48,124.23 294.63,122.00 294.63,117.56" fill="#8890c8"/>
<polygon points="307.00,115.33 310.85,117.56 310.85,122.00 307.00,124.23 303.15,122.00 303.15,117.56" fill="#5058ac"/>
<polygon points="268.66,122.77 272.51,125.00 272.51,129.44 268.66,131.67 264.81,129.44 264.81,125.00" fill="#c89080"/>
<polygon points="277.18,122.77 281.03,125.00 281.03,129.44 277.18,131.67 273.33,129.44 273.33,125.00" fill="#e0c4b0"/>
<polygon points="285.70,122.77 289.55,125.00 289.55,129.44 285.70,131.67 281.85,129.44 281.85,125.00" fill="#e4e4e0"/>
<polygon points="294.22,122.77 298.07,125.00 298.07,129.44 294.22,131.67 290.37,129.44 290.37,125.00" fill="#a8acd8"/>
<polygon points="302.74,122.77 306.59,125.00 306.59,129.44 302.74,131.67 298.89,129.44 298.89,125.00" fill="#7880c0"/>
<polygon points="311.26,122.77 315.11,125.00 315.11,129.44 311.26,131.67 307.41,129.44 307.41,125.00" fill="#4850a8"/>
<polygon points="264.40,130.21 268.25,132.44 268.25,136.88 264.40,139.11 260.55,136.88 260.55,132.44" fill="#a85848"/>
<polygon points="272.92,130.21 276.77,132.44 276.77,136.88 272.92,139.11 269.07,136.88 269.07,132.44" fill="#c89888"/>
<polygon points="281.44,130.21 285.29,132.44 285.29,136.88 281.44,139.11 277.59,136.88 277.59,132.44" fill="#e4ccb4"/>
<polygon points="289.96,130.21 293.81,132.44 293.81,136.88 289.96,139.11 286.11,136.88 286.11,132.44" fill="#dcdcdc"/>
<polygon points="298.48,130.21 302.33,132.44 302.33,136.88 298.48,139.11 294.63,136.88 294.63,132.44" fill="#a0a4d4"/>
<polygon points="307.00,130.21 310.85,132.44 310.85,136.88 307.00,139.11 303.15,136.88 303.15,132.44" fill="#7880c0"/>
<polygon points="268.66,137.65 272.51,139.88 272.51,144.33 268.66,146.55 264.81,144.33 264.81,139.88" fill="#b07060"/>
<polygon points="277.18,137.65 281.03,139.88 281.03,144.33 277.18,146.55 273.33,144.33 273.33,139.88" fill="#c89888"/>
<polygon points="285.70,137.65 289.55,139.88 289.55,144.33 285.70,146.55 281.85,144.33 281.85,139.88" fill="#ecdcc4"/>
<polygon points="294.22,137.65 298.07,139.88 298.07,144.33 294.22,146.55 290.37,144.33 290.37,139.88" fill="#d0d4e4"/>
<polygon points="302.74,137.65 306.59,139.88 306.59,144.33 302.74,146.55 298.89,144.33 298.89,139.88" fill="#9098cc"/>
<polygon points="311.26,137.65 315.11,139.88 315.11,144.33 311.26,146.55 307.41,144.33 307.41,139.88" fill="#8088c4"/>
<text x="287.83" y="97.40" text-anchor="middle" style="font-size:5.5px;" fill="#222"  stroke="#222" stroke-width="0.2">ATRA-6h</text>
<polygon points="329.30,100.45 333.15,102.68 333.15,107.12 329.30,109.35 325.45,107.12 325.45,102.68" fill="#b87060"/>
<polygon points="337.82,100.45 341.67,102.68 341.67,107.12 337.82,109.35 333.97,107.12 333.97,102.68" fill="#c08070"/>
<polygon points="346.34,100.45 350.19,102.68 350.19,107.12 346.34,109.35 342.49,107.12 342.49,102.68" fill="#dcc0b0"/>
<polygon points="354.86,100.45 358.71,102.68 358.71,107.12 354.86,109.35 351.01,107.12 351.01,102.68" fill="#d8dce8"/>
<polygon points="363.38,100.45 367.23,102.68 367.23,107.12 363.38,109.35 359.53,107.12 359.53,102.68" fill="#7c84c4"/>
<polygon points="371.90,100.45 375.75,102.68 375.75,107.12 371.90,109.35 368.05,107.12 368.05,102.68" fill="#4048a4"/>
<polygon points="333.56,107.89 337.41,110.12 337.41,114.56 333.56,116.79 329.71,114.56 329.71,110.12" fill="#b06050"/>
<polygon points="342.08,107.89 345.93,110.12 345.93,114.56 342.08,116.79 338.23,114.56 338.23,110.12" fill="#c89080"/>
<polygon points="350.60,107.89 354.45,110.12 354.45,114.56 350.60,116.79 346.75,114.56 346.75,110.12" fill="#f2eedc"/>
<polygon points="359.12,107.89 362.97,110.12 362.97,114.56 359.12,116.79 355.27,114.56 355.27,110.12" fill="#b0b4d8"/>
<polygon points="367.64,107.89 371.49,110.12 371.49,114.56 367.64,116.79 363.79,114.56 363.79,110.12" fill="#6870b8"/>
<polygon points="376.16,107.89 380.01,110.12 380.01,114.56 376.16,116.79 372.31,114.56 372.31,110.12" fill="#3038a0"/>
<polygon points="329.30,115.33 333.15,117.56 333.15,122.00 329.30,124.23 325.45,122.00 325.45,117.56" fill="#902818"/>
<polygon points="337.82,115.33 341.67,117.56 341.67,122.00 337.82,124.23 333.97,122.00 333.97,117.56" fill="#b06050"/>
<polygon points="346.34,115.33 350.19,117.56 350.19,122.00 346.34,124.23 342.49,122.00 342.49,117.56" fill="#dcb8a4"/>
<polygon points="354.86,115.33 358.71,117.56 358.71,122.00 354.86,124.23 351.01,122.00 351.01,117.56" fill="#e4e4e0"/>
<polygon points="363.38,115.33 367.23,117.56 367.23,122.00 363.38,124.23 359.53,122.00 359.53,117.56" fill="#a0a4d4"/>
<polygon points="371.90,115.33 375.75,117.56 375.75,122.00 371.90,124.23 368.05,122.00 368.05,117.56" fill="#6068b4"/>
<polygon points="333.56,122.77 337.41,125.00 337.41,129.44 333.56,131.67 329.71,129.44 329.71,125.00" fill="#902010"/>
<polygon points="342.08,122.77 345.93,125.00 345.93,129.44 342.08,131.67 338.23,129.44 338.23,125.00" fill="#b87060"/>
<polygon points="350.60,122.77 354.45,125.00 354.45,129.44 350.60,131.67 346.75,129.44 346.75,125.00" fill="#e4ccb8"/>
<polygon points="359.12,122.77 362.97,125.00 362.97,129.44 359.12,131.67 355.27,129.44 355.27,125.00" fill="#e4e4e0"/>
<polygon points="367.64,122.77 371.49,125.00 371.49,129.44 367.64,131.67 363.79,129.44 363.79,125.00" fill="#c0c4dc"/>
<polygon points="376.16,122.77 380.01,125.00 380.01,129.44 376.16,131.67 372.31,129.44 372.31,125.00" fill="#9098cc"/>
<polygon points="329.30,130.21 333.15,132.44 333.15,136.88 329.30,139.11 325.45,136.88 325.45,132.44" fill="#8c2010"/>
<polygon points="337.82,130.21 341.67,132.44 341.67,136.88 337.82,139.11 333.97,136.88 333.97,132.44" fill="#902818"/>
<polygon points="346.34,130.21 350.19,132.44 350.19,136.88 346.34,139.11 342.49,136.88 342.49,132.44" fill="#c08878"/>
<polygon points="354.86,130.21 358.71,132.44 358.71,136.88 354.86,139.11 351.01,136.88 351.01,132.44" fill="#ecd8c4"/>
<polygon points="363.38,130.21 367.23,132.44 367.23,136.88 363.38,139.11 359.53,136.88 359.53,132.44" fill="#e8e8e4"/>
<polygon points="371.90,130.21 375.75,132.44 375.75,136.88 371.90,139.11 368.05,136.88 368.05,132.44" fill="#c8cce0"/>
<polygon points="333.56,137.65 337.41,139.88 337.41,144.33 333.56,146.55 329.71,144.33 329.71,139.88" fill="#902818"/>
<polygon points="342.08,137.65 345.93,139.88 345.93,144.33 342.08,146.55 338.23,144.33 338.23,139.88" fill="#a03828"/>
<polygon points="350.60,137.65 354.45,139.88 354.45,144.33 350.60,146.55 346.75,144.33 346.75,139.88" fill="#c08070"/>
<polygon points="359.12,137.65 362.97,139.88 362.97,144.33 359.12,146.55 355.27,144.33 355.27,139.88" fill="#ecdcc8"/>
<polygon points="367.64,137.65 371.49,139.88 371.49,144.33 367.64,146.55 363.79,144.33 363.79,139.88" fill="#e8e8e4"/>
<polygon points="376.16,137.65 380.01,139.88 380.01,144.33 376.16,146.55 372.31,144.33 372.31,139.88" fill="#dcdce4"/>
<text x="352.73" y="97.40" text-anchor="middle" style="font-size:5.5px;" fill="#222"  stroke="#222" stroke-width="0.2">ATRA-12h</text>
<polygon points="394.30,100.45 398.15,102.68 398.15,107.12 394.30,109.35 390.45,107.12 390.45,102.68" fill="#a85848"/>
<polygon points="402.82,100.45 406.67,102.68 406.67,107.12 402.82,109.35 398.97,107.12 398.97,102.68" fill="#b06858"/>
<polygon points="411.34,100.45 415.19,102.68 415.19,107.12 411.34,109.35 407.49,107.12 407.49,102.68" fill="#d4b0a0"/>
<polygon points="419.86,100.45 423.71,102.68 423.71,107.12 419.86,109.35 416.01,107.12 416.01,102.68" fill="#d8dce8"/>
<polygon points="428.38,100.45 432.23,102.68 432.23,107.12 428.38,109.35 424.53,107.12 424.53,102.68" fill="#6068b4"/>
<polygon points="436.90,100.45 440.75,102.68 440.75,107.12 436.90,109.35 433.05,107.12 433.05,102.68" fill="#202888"/>
<polygon points="398.56,107.89 402.41,110.12 402.41,114.56 398.56,116.79 394.71,114.56 394.71,110.12" fill="#a04838"/>
<polygon points="407.08,107.89 410.93,110.12 410.93,114.56 407.08,116.79 403.23,114.56 403.23,110.12" fill="#b87868"/>
<polygon points="415.60,107.89 419.45,110.12 419.45,114.56 415.60,116.79 411.75,114.56 411.75,110.12" fill="#f0e8d4"/>
<polygon points="424.12,107.89 427.97,110.12 427.97,114.56 424.12,116.79 420.27,114.56 420.27,110.12" fill="#b0b4d8"/>
<polygon points="432.64,107.89 436.49,110.12 436.49,114.56 432.64,116.79 428.79,114.56 428.79,110.12" fill="#5058ac"/>
<polygon points="441.16,107.89 445.01,110.12 445.01,114.56 441.16,116.79 437.31,114.56 437.31,110.12" fill="#202888"/>
<polygon points="394.30,115.33 398.15,117.56 398.15,122.00 394.30,124.23 390.45,122.00 390.45,117.56" fill="#902818"/>
<polygon points="402.82,115.33 406.67,117.56 406.67,122.00 402.82,124.23 398.97,122.00 398.97,117.56" fill="#a04838"/>
<polygon points="411.34,115.33 415.19,117.56 415.19,122.00 411.34,124.23 407.49,122.00 407.49,117.56" fill="#d0a898"/>
<polygon points="419.86,115.33 423.71,117.56 423.71,122.00 419.86,124.23 416.01,122.00 416.01,117.56" fill="#f0f0e4"/>
<polygon points="428.38,115.33 432.23,117.56 432.23,122.00 428.38,124.23 424.53,122.00 424.53,117.56" fill="#a8acd8"/>
<polygon points="436.90,115.33 440.75,117.56 440.75,122.00 436.90,124.23 433.05,122.00 433.05,117.56" fill="#5860ac"/>
<polygon points="398.56,122.77 402.41,125.00 402.41,129.44 398.56,131.67 394.71,129.44 394.71,125.00" fill="#902010"/>
<polygon points="407.08,122.77 410.93,125.00 410.93,129.44 407.08,131.67 403.23,129.44 403.23,125.00" fill="#b06050"/>
<polygon points="415.60,122.77 419.45,125.00 419.45,129.44 415.60,131.67 411.75,129.44 411.75,125.00" fill="#e0c4b4"/>
<polygon points="424.12,122.77 427.97,125.00 427.97,129.44 424.12,131.67 420.27,129.44 420.27,125.00" fill="#f0f0e0"/>
<polygon points="432.64,122.77 436.49,125.00 436.49,129.44 432.64,131.67 428.79,129.44 428.79,125.00" fill="#b8bcdc"/>
<polygon points="441.16,122.77 445.01,125.00 445.01,129.44 441.16,131.67 437.31,129.44 437.31,125.00" fill="#8890c8"/>
<polygon points="394.30,130.21 398.15,132.44 398.15,136.88 394.30,139.11 390.45,136.88 390.45,132.44" fill="#902010"/>
<polygon points="402.82,130.21 406.67,132.44 406.67,136.88 402.82,139.11 398.97,136.88 398.97,132.44" fill="#902818"/>
<polygon points="411.34,130.21 415.19,132.44 415.19,136.88 411.34,139.11 407.49,136.88 407.49,132.44" fill="#c08070"/>
<polygon points="419.86,130.21 423.71,132.44 423.71,136.88 419.86,139.11 416.01,136.88 416.01,132.44" fill="#e4ccb8"/>
<polygon points="428.38,130.21 432.23,132.44 432.23,136.88 428.38,139.11 424.53,136.88 424.53,132.44" fill="#f0f0e0"/>
<polygon points="436.90,130.21 440.75,132.44 440.75,136.88 436.90,139.11 433.05,136.88 433.05,132.44" fill="#c8cce0"/>
<polygon points="398.56,137.65 402.41,139.88 402.41,144.33 398.56,146.55 394.71,144.33 394.71,139.88" fill="#902818"/>
<polygon points="407.08,137.65 410.93,139.88 410.93,144.33 407.08,146.55 403.23,144.33 403.23,139.88" fill="#a03828"/>
<polygon points="415.60,137.65 419.45,139.88 419.45,144.33 415.60,146.55 411.75,144.33 411.75,139.88" fill="#c89080"/>
<polygon points="424.12,137.65 427.97,139.88 427.97,144.33 424.12,146.55 420.27,144.33 420.27,139.88" fill="#e8d4c0"/>
<polygon points="432.64,137.65 436.49,139.88 436.49,144.33 432.64,146.55 428.79,144.33 428.79,139.88" fill="#ececec"/>
<polygon points="441.16,137.65 445.01,139.88 445.01,144.33 441.16,146.55 437.31,144.33 437.31,139.88" fill="#d0d4e4"/>
<text x="417.73" y="97.40" text-anchor="middle" style="font-size:5.5px;" fill="#222"  stroke="#222" stroke-width="0.2">ATRA-24h</text>
<polygon points="459.20,100.45 463.05,102.68 463.05,107.12 459.20,109.35 455.35,107.12 455.35,102.68" fill="#a85848"/>
<polygon points="467.72,100.45 471.57,102.68 471.57,107.12 467.72,109.35 463.87,107.12 463.87,102.68" fill="#b06858"/>
<polygon points="476.24,100.45 480.09,102.68 480.09,107.12 476.24,109.35 472.39,107.12 472.39,102.68" fill="#d4b0a0"/>
<polygon points="484.76,100.45 488.61,102.68 488.61,107.12 484.76,109.35 480.91,107.12 480.91,102.68" fill="#e4e4e0"/>
<polygon points="493.28,100.45 497.13,102.68 497.13,107.12 493.28,109.35 489.43,107.12 489.43,102.68" fill="#6068b4"/>
<polygon points="501.80,100.45 505.65,102.68 505.65,107.12 501.80,109.35 497.95,107.12 497.95,102.68" fill="#202888"/>
<polygon points="463.46,107.89 467.31,110.12 467.31,114.56 463.46,116.79 459.61,114.56 459.61,110.12" fill="#a04838"/>
<polygon points="471.98,107.89 475.83,110.12 475.83,114.56 471.98,116.79 468.13,114.56 468.13,110.12" fill="#b06858"/>
<polygon points="480.50,107.89 484.35,110.12 484.35,114.56 480.50,116.79 476.65,114.56 476.65,110.12" fill="#e4ccb8"/>
<polygon points="489.02,107.89 492.87,110.12 492.87,114.56 489.02,116.79 485.17,114.56 485.17,110.12" fill="#c8cce0"/>
<polygon points="497.54,107.89 501.39,110.12 501.39,114.56 497.54,116.79 493.69,114.56 493.69,110.12" fill="#5058ac"/>
<polygon points="506.06,107.89 509.91,110.12 509.91,114.56 506.06,116.79 502.21,114.56 502.21,110.12" fill="#282e90"/>
<polygon points="459.20,115.33 463.05,117.56 463.05,122.00 459.20,124.23 455.35,122.00 455.35,117.56" fill="#902818"/>
<polygon points="467.72,115.33 471.57,117.56 471.57,122.00 467.72,124.23 463.87,122.00 463.87,117.56" fill="#a04030"/>
<polygon points="476.24,115.33 480.09,117.56 480.09,122.00 476.24,124.23 472.39,122.00 472.39,117.56" fill="#c89080"/>
<polygon points="484.76,115.33 488.61,117.56 488.61,122.00 484.76,124.23 480.91,122.00 480.91,117.56" fill="#ecdcc8"/>
<polygon points="493.28,115.33 497.13,117.56 497.13,122.00 493.28,124.23 489.43,122.00 489.43,117.56" fill="#b8bcdc"/>
<polygon points="501.80,115.33 505.65,117.56 505.65,122.00 501.80,124.23 497.95,122.00 497.95,117.56" fill="#5860ac"/>
<polygon points="463.46,122.77 467.31,125.00 467.31,129.44 463.46,131.67 459.61,129.44 459.61,125.00" fill="#902010"/>
<polygon points="471.98,122.77 475.83,125.00 475.83,129.44 471.98,131.67 468.13,129.44 468.13,125.00" fill="#a85040"/>
<polygon points="480.50,122.77 484.35,125.00 484.35,129.44 480.50,131.67 476.65,129.44 476.65,125.00" fill="#d4b0a0"/>
<polygon points="489.02,122.77 492.87,125.00 492.87,129.44 489.02,131.67 485.17,129.44 485.17,125.00" fill="#f0f0dc"/>
<polygon points="497.54,122.77 501.39,125.00 501.39,129.44 497.54,131.67 493.69,129.44 493.69,125.00" fill="#c0c4dc"/>
<polygon points="506.06,122.77 509.91,125.00 509.91,129.44 506.06,131.67 502.21,129.44 502.21,125.00" fill="#8088c4"/>
<polygon points="459.20,130.21 463.05,132.44 463.05,136.88 459.20,139.11 455.35,136.88 455.35,132.44" fill="#902010"/>
<polygon points="467.72,130.21 471.57,132.44 471.57,136.88 467.72,139.11 463.87,136.88 463.87,132.44" fill="#902818"/>
<polygon points="476.24,130.21 480.09,132.44 480.09,136.88 476.24,139.11 472.39,136.88 472.39,132.44" fill="#c08070"/>
<polygon points="484.76,130.21 488.61,132.44 488.61,136.88 484.76,139.11 480.91,136.88 480.91,132.44" fill="#e4ccb8"/>
<polygon points="493.28,130.21 497.13,132.44 497.13,136.88 493.28,139.11 489.43,136.88 489.43,132.44" fill="#e8e8e4"/>
<polygon points="501.80,130.21 505.65,132.44 505.65,136.88 501.80,139.11 497.95,136.88 497.95,132.44" fill="#c8cce0"/>
<polygon points="463.46,137.65 467.31,139.88 467.31,144.33 463.46,146.55 459.61,144.33 459.61,139.88" fill="#902818"/>
<polygon points="471.98,137.65 475.83,139.88 475.83,144.33 471.98,146.55 468.13,144.33 468.13,139.88" fill="#a85040"/>
<polygon points="480.50,137.65 484.35,139.88 484.35,144.33 480.50,146.55 476.65,144.33 476.65,139.88" fill="#d0a898"/>
<polygon points="489.02,137.65 492.87,139.88 492.87,144.33 489.02,146.55 485.17,144.33 485.17,139.88" fill="#f0ecd8"/>
<polygon points="497.54,137.65 501.39,139.88 501.39,144.33 497.54,146.55 493.69,144.33 493.69,139.88" fill="#e0e0e0"/>
<polygon points="506.06,137.65 509.91,139.88 509.91,144.33 506.06,146.55 502.21,144.33 502.21,139.88" fill="#d0d4e4"/>
<text x="482.63" y="97.40" text-anchor="middle" style="font-size:5.5px;" fill="#222"  stroke="#222" stroke-width="0.2">ATRA-48h</text>
<text transform="translate(284.00,198.70) scale(0.86,1)" text-anchor="end" style="font-size:5.9px;font-style:italic;" fill="#222"  stroke="#222" stroke-width="0.24">FCGR1B</text>
<circle cx="290.0" cy="196.7" r="3.5" fill="#8088c4"/>
<circle cx="297.9" cy="196.7" r="3.5" fill="#1e2484"/>
<circle cx="305.8" cy="196.7" r="3.5" fill="#1e2484"/>
<circle cx="317.0" cy="196.7" r="3.5" fill="#c8cce0"/>
<circle cx="324.8" cy="196.7" r="3.5" fill="#e4e4dc"/>
<circle cx="332.6" cy="196.7" r="3.5" fill="#c8cce0"/>
<circle cx="340.3" cy="196.7" r="3.5" fill="#7078bc"/>
<text transform="translate(284.00,207.10) scale(0.86,1)" text-anchor="end" style="font-size:5.9px;font-style:italic;" fill="#222"  stroke="#222" stroke-width="0.24">FCGR1A</text>
<circle cx="290.0" cy="205.1" r="3.5" fill="#5058ac"/>
<circle cx="297.9" cy="205.1" r="3.5" fill="#1e2484"/>
<circle cx="305.8" cy="205.1" r="3.5" fill="#1e2484"/>
<circle cx="317.0" cy="205.1" r="3.5" fill="#a0a4d4"/>
<circle cx="324.8" cy="205.1" r="3.5" fill="#ecece0"/>
<circle cx="332.6" cy="205.1" r="3.5" fill="#dcdce0"/>
<circle cx="340.3" cy="205.1" r="3.5" fill="#e0e0e0"/>
<text transform="translate(284.00,215.20) scale(0.86,1)" text-anchor="end" style="font-size:5.9px;font-style:italic;" fill="#222"  stroke="#222" stroke-width="0.24">ETS1</text>
<circle cx="290.0" cy="213.2" r="3.5" fill="#4048a4"/>
<circle cx="297.9" cy="213.2" r="3.5" fill="#1e2484"/>
<circle cx="305.8" cy="213.2" r="3.5" fill="#1e2484"/>
<circle cx="317.0" cy="213.2" r="3.5" fill="#6068b4"/>
<circle cx="324.8" cy="213.2" r="3.5" fill="#e4e4e0"/>
<circle cx="332.6" cy="213.2" r="3.5" fill="#d0d4e4"/>
<circle cx="340.3" cy="213.2" r="3.5" fill="#ecece0"/>
<text transform="translate(284.00,223.50) scale(0.86,1)" text-anchor="end" style="font-size:5.9px;font-style:italic;" fill="#222"  stroke="#222" stroke-width="0.24">GFI1</text>
<circle cx="290.0" cy="221.5" r="3.5" fill="#202888"/>
<circle cx="297.9" cy="221.5" r="3.5" fill="#1e2484"/>
<circle cx="305.8" cy="221.5" r="3.5" fill="#1e2484"/>
<circle cx="317.0" cy="221.5" r="3.5" fill="#9098cc"/>
<circle cx="324.8" cy="221.5" r="3.5" fill="#d8dce4"/>
<circle cx="332.6" cy="221.5" r="3.5" fill="#a8acd8"/>
<circle cx="340.3" cy="221.5" r="3.5" fill="#e4e4e0"/>
<text transform="translate(291.50,190.7) rotate(-56)" style="font-size:5.3px" fill="#2a2a2a" stroke="#2a2a2a" stroke-width="0.18">ATO-6h</text>
<text transform="translate(299.40,190.7) rotate(-56)" style="font-size:5.3px" fill="#2a2a2a" stroke="#2a2a2a" stroke-width="0.18">ATO-12h</text>
<text transform="translate(307.30,190.7) rotate(-56)" style="font-size:5.3px" fill="#2a2a2a" stroke="#2a2a2a" stroke-width="0.18">ATO-24h</text>
<text transform="translate(318.50,190.7) rotate(-56)" style="font-size:5.3px" fill="#2a2a2a" stroke="#2a2a2a" stroke-width="0.18">ATRA-6h</text>
<text transform="translate(326.30,190.7) rotate(-56)" style="font-size:5.3px" fill="#2a2a2a" stroke="#2a2a2a" stroke-width="0.18">ATRA-12h</text>
<text transform="translate(334.10,190.7) rotate(-56)" style="font-size:5.3px" fill="#2a2a2a" stroke="#2a2a2a" stroke-width="0.18">ATRA-24h</text>
<text transform="translate(341.80,190.7) rotate(-56)" style="font-size:5.3px" fill="#2a2a2a" stroke="#2a2a2a" stroke-width="0.18">ATRA-48h</text>
<defs>
<linearGradient id="fcg" x1="0" y1="0" x2="0" y2="1">
<stop offset="0" stop-color="#8b1a1a"/>
<stop offset="0.16" stop-color="#b06050"/>
<stop offset="0.33" stop-color="#d4aa98"/>
<stop offset="0.5" stop-color="#f5f3e0"/>
<stop offset="0.67" stop-color="#b0b4dc"/>
<stop offset="0.84" stop-color="#5060b0"/>
<stop offset="1" stop-color="#1a1a80"/>
</linearGradient>
<linearGradient id="fdrg" x1="0" y1="0" x2="0" y2="1">
<stop offset="0" stop-color="#d470a8"/>
<stop offset="0.25" stop-color="#cc74ac"/>
<stop offset="0.45" stop-color="#a088c8"/>
<stop offset="0.55" stop-color="#6aa0e0"/>
<stop offset="0.75" stop-color="#58a2e0"/>
<stop offset="1" stop-color="#4a9a9c"/>
</linearGradient>
</defs>
<rect x="369.8" y="177.2" width="3.4" height="48.6" fill="url(#fcg)"/>
<text transform="translate(362.00,171.00) scale(0.79,1)" text-anchor="start" style="font-size:9.0px" fill="#222" stroke="#222" stroke-width="0.15">log<tspan dy="1.80" style="font-size:6.12px">2</tspan><tspan dy="-1.80">(FC)</tspan></text>
<text x="375.40" y="180.00" text-anchor="start" style="font-size:6.4px;" fill="#222"  stroke="#222" stroke-width="0.2">1.5</text>
<text x="375.40" y="187.70" text-anchor="start" style="font-size:6.4px;" fill="#222"  stroke="#222" stroke-width="0.2">1.0</text>
<text x="375.40" y="203.30" text-anchor="start" style="font-size:6.4px;" fill="#222"  stroke="#222" stroke-width="0.2">0.0</text>
<text x="373.60" y="219.30" text-anchor="start" style="font-size:6.4px;" fill="#222"  stroke="#222" stroke-width="0.2">-1.0</text>
<text x="373.60" y="227.00" text-anchor="start" style="font-size:6.4px;" fill="#222"  stroke="#222" stroke-width="0.2">-1.5</text>
<text x="220.20" y="286.80" text-anchor="end" style="font-size:6.72px;" fill="#1a1a1a" textLength="149.5" lengthAdjust="spacingAndGlyphs" stroke="#1a1a1a" stroke-width="0.14">Regulation of anatomical structure morphogenesis</text>
<line x1="224.6" y1="284.40" x2="228" y2="284.40" stroke="#111" stroke-width="0.8"/>
<text x="220.20" y="294.68" text-anchor="end" style="font-size:6.72px;" fill="#1a1a1a" textLength="54.3" lengthAdjust="spacingAndGlyphs" stroke="#1a1a1a" stroke-width="0.14">Apoptotic process</text>
<line x1="224.6" y1="292.28" x2="228" y2="292.28" stroke="#111" stroke-width="0.8"/>
<text x="220.20" y="302.56" text-anchor="end" style="font-size:6.72px;" fill="#1a1a1a" textLength="71.1" lengthAdjust="spacingAndGlyphs" stroke="#1a1a1a" stroke-width="0.14">Regulation of cell death</text>
<line x1="224.6" y1="300.16" x2="228" y2="300.16" stroke="#111" stroke-width="0.8"/>
<text x="220.20" y="310.44" text-anchor="end" style="font-size:6.72px;" fill="#1a1a1a" textLength="124.9" lengthAdjust="spacingAndGlyphs" stroke="#1a1a1a" stroke-width="0.14">Cellular response to endogenous stimulus</text>
<line x1="224.6" y1="308.04" x2="228" y2="308.04" stroke="#111" stroke-width="0.8"/>
<text x="220.20" y="318.32" text-anchor="end" style="font-size:6.72px;" fill="#1a1a1a" textLength="159.4" lengthAdjust="spacingAndGlyphs" stroke="#1a1a1a" stroke-width="0.14">Positive regulation of multicellular organismal process</text>
<line x1="224.6" y1="315.92" x2="228" y2="315.92" stroke="#111" stroke-width="0.8"/>
<text x="220.20" y="326.20" text-anchor="end" style="font-size:6.72px;" fill="#1a1a1a" textLength="35.9" lengthAdjust="spacingAndGlyphs" stroke="#1a1a1a" stroke-width="0.14">Endocytosis</text>
<line x1="224.6" y1="323.80" x2="228" y2="323.80" stroke="#111" stroke-width="0.8"/>
<text x="220.20" y="334.08" text-anchor="end" style="font-size:6.72px;" fill="#1a1a1a" textLength="45.3" lengthAdjust="spacingAndGlyphs" stroke="#1a1a1a" stroke-width="0.14">Import into cell</text>
<line x1="224.6" y1="331.68" x2="228" y2="331.68" stroke="#111" stroke-width="0.8"/>
<text x="220.20" y="341.96" text-anchor="end" style="font-size:6.72px;" fill="#1a1a1a" textLength="139.9" lengthAdjust="spacingAndGlyphs" stroke="#1a1a1a" stroke-width="0.14">Immune response regulating signaling pathway</text>
<line x1="224.6" y1="339.56" x2="228" y2="339.56" stroke="#111" stroke-width="0.8"/>
<text x="220.20" y="349.84" text-anchor="end" style="font-size:6.72px;" fill="#1a1a1a" textLength="68.4" lengthAdjust="spacingAndGlyphs" stroke="#1a1a1a" stroke-width="0.14">Response to wounding</text>
<line x1="224.6" y1="347.44" x2="228" y2="347.44" stroke="#111" stroke-width="0.8"/>
<text x="220.20" y="357.72" text-anchor="end" style="font-size:6.72px;" fill="#1a1a1a" textLength="164.2" lengthAdjust="spacingAndGlyphs" stroke="#1a1a1a" stroke-width="0.14">Negative regulation of cellular component organization</text>
<line x1="224.6" y1="355.32" x2="228" y2="355.32" stroke="#111" stroke-width="0.8"/>
<text x="220.20" y="365.60" text-anchor="end" style="font-size:6.72px;" fill="#1a1a1a" textLength="84.7" lengthAdjust="spacingAndGlyphs" stroke="#1a1a1a" stroke-width="0.14">Myeloid leukocyte activation</text>
<line x1="224.6" y1="363.20" x2="228" y2="363.20" stroke="#111" stroke-width="0.8"/>
<text x="220.20" y="373.48" text-anchor="end" style="font-size:6.72px;" fill="#1a1a1a" textLength="112.9" lengthAdjust="spacingAndGlyphs" stroke="#1a1a1a" stroke-width="0.14">Myeloid leukocyte mediated immunity</text>
<line x1="224.6" y1="371.08" x2="228" y2="371.08" stroke="#111" stroke-width="0.8"/>
<text x="220.20" y="381.36" text-anchor="end" style="font-size:6.72px;" fill="#1a1a1a" textLength="130.4" lengthAdjust="spacingAndGlyphs" stroke="#1a1a1a" stroke-width="0.14">Cell activation involved in immune response</text>
<line x1="224.6" y1="378.96" x2="228" y2="378.96" stroke="#111" stroke-width="0.8"/>
<text x="220.20" y="389.24" text-anchor="end" style="font-size:6.72px;" fill="#1a1a1a" textLength="45.1" lengthAdjust="spacingAndGlyphs" stroke="#1a1a1a" stroke-width="0.14">Wound healing</text>
<line x1="224.6" y1="386.84" x2="228" y2="386.84" stroke="#111" stroke-width="0.8"/>
<text x="220.20" y="397.12" text-anchor="end" style="font-size:6.72px;" fill="#1a1a1a" textLength="36.3" lengthAdjust="spacingAndGlyphs" stroke="#1a1a1a" stroke-width="0.14">Coagulation</text>
<line x1="224.6" y1="394.72" x2="228" y2="394.72" stroke="#111" stroke-width="0.8"/>
<rect x="228.0" y="279.6" width="60.90" height="119.9" fill="none" stroke="#000" stroke-width="1.5"/>
<text x="258.45" y="274.50" text-anchor="middle" style="font-size:6.9px;font-weight:bold;" fill="#111" >C1</text>
<rect x="293.8" y="279.6" width="61.10" height="119.9" fill="none" stroke="#000" stroke-width="1.5"/>
<text x="324.35" y="274.50" text-anchor="middle" style="font-size:6.9px;font-weight:bold;" fill="#111" >C2</text>
<rect x="359.8" y="279.6" width="60.70" height="119.9" fill="none" stroke="#000" stroke-width="1.5"/>
<text x="390.15" y="274.50" text-anchor="middle" style="font-size:6.9px;font-weight:bold;" fill="#111" >C3</text>
<line x1="230.3" y1="399.5" x2="230.3" y2="403.0" stroke="#111" stroke-width="0.9"/>
<text x="230.30" y="412.80" text-anchor="middle" style="font-size:6.3px;" fill="#222"  stroke="#222" stroke-width="0.2">0</text>
<line x1="251.4" y1="399.5" x2="251.4" y2="403.0" stroke="#111" stroke-width="0.9"/>
<text x="251.40" y="412.80" text-anchor="middle" style="font-size:6.3px;" fill="#222"  stroke="#222" stroke-width="0.2">2</text>
<line x1="272.6" y1="399.5" x2="272.6" y2="403.0" stroke="#111" stroke-width="0.9"/>
<text x="272.60" y="412.80" text-anchor="middle" style="font-size:6.3px;" fill="#222"  stroke="#222" stroke-width="0.2">4</text>
<line x1="296.4" y1="399.5" x2="296.4" y2="403.0" stroke="#111" stroke-width="0.9"/>
<text x="296.40" y="412.80" text-anchor="middle" style="font-size:6.3px;" fill="#222"  stroke="#222" stroke-width="0.2">0</text>
<line x1="317.6" y1="399.5" x2="317.6" y2="403.0" stroke="#111" stroke-width="0.9"/>
<text x="317.60" y="412.80" text-anchor="middle" style="font-size:6.3px;" fill="#222"  stroke="#222" stroke-width="0.2">2</text>
<line x1="338.8" y1="399.5" x2="338.8" y2="403.0" stroke="#111" stroke-width="0.9"/>
<text x="338.80" y="412.80" text-anchor="middle" style="font-size:6.3px;" fill="#222"  stroke="#222" stroke-width="0.2">4</text>
<line x1="362.4" y1="399.5" x2="362.4" y2="403.0" stroke="#111" stroke-width="0.9"/>
<text x="362.40" y="412.80" text-anchor="middle" style="font-size:6.3px;" fill="#222"  stroke="#222" stroke-width="0.2">0</text>
<line x1="383.6" y1="399.5" x2="383.6" y2="403.0" stroke="#111" stroke-width="0.9"/>
<text x="383.60" y="412.80" text-anchor="middle" style="font-size:6.3px;" fill="#222"  stroke="#222" stroke-width="0.2">2</text>
<line x1="404.8" y1="399.5" x2="404.8" y2="403.0" stroke="#111" stroke-width="0.9"/>
<text x="404.80" y="412.80" text-anchor="middle" style="font-size:6.3px;" fill="#222"  stroke="#222" stroke-width="0.2">4</text>
<text transform="translate(298.40,426.20) scale(0.79,1)" text-anchor="start" style="font-size:9.0px" fill="#222" stroke="#222" stroke-width="0.15">-log<tspan dy="1.80" style="font-size:6.12px">2</tspan><tspan dy="-1.80">(odds ratio)</tspan></text>
<line x1="245.0" y1="284.40" x2="280.0" y2="284.40" stroke="#d6aedc" stroke-width="1.0"/>
<circle cx="263.2" cy="284.40" r="2.2" fill="#b67cc2"/>
<line x1="245.0" y1="292.28" x2="279.0" y2="292.28" stroke="#d4aedc" stroke-width="1.0"/>
<circle cx="262.1" cy="292.28" r="2.2" fill="#b27cc2"/>
<line x1="243.0" y1="300.16" x2="277.2" y2="300.16" stroke="#d2b0de" stroke-width="1.0"/>
<circle cx="260.3" cy="300.16" r="2.2" fill="#ac7ec4"/>
<line x1="242.2" y1="308.04" x2="277.2" y2="308.04" stroke="#ccb4e0" stroke-width="1.0"/>
<circle cx="260.2" cy="308.04" r="2.2" fill="#a082c8"/>
<line x1="242.6" y1="315.92" x2="277.0" y2="315.92" stroke="#d2b0de" stroke-width="1.0"/>
<circle cx="259.9" cy="315.92" r="2.2" fill="#aa7ec4"/>
<line x1="310.4" y1="323.80" x2="341.2" y2="323.80" stroke="#a8b6e4" stroke-width="1.0"/>
<circle cx="327.2" cy="323.80" r="2.2" fill="#7a8cd4"/>
<line x1="307.5" y1="331.68" x2="338.3" y2="331.68" stroke="#a6b8e4" stroke-width="1.0"/>
<circle cx="324.0" cy="331.68" r="2.2" fill="#7890d4"/>
<line x1="305.0" y1="339.56" x2="338.3" y2="339.56" stroke="#8cc0ec" stroke-width="1.0"/>
<circle cx="323.1" cy="339.56" r="2.2" fill="#5a9ee2"/>
<line x1="304.6" y1="347.44" x2="338.0" y2="347.44" stroke="#8cc0ec" stroke-width="1.0"/>
<circle cx="322.9" cy="347.44" r="2.2" fill="#5aa0e2"/>
<line x1="304.0" y1="355.32" x2="337.3" y2="355.32" stroke="#8cc0ec" stroke-width="1.0"/>
<circle cx="322.4" cy="355.32" r="2.2" fill="#5a9ee2"/>
<line x1="392.3" y1="363.20" x2="417.8" y2="363.20" stroke="#e4a8cc" stroke-width="1.0"/>
<circle cx="405.5" cy="363.20" r="2.2" fill="#d070a8"/>
<line x1="389.4" y1="371.08" x2="416.2" y2="371.08" stroke="#e4a8cc" stroke-width="1.0"/>
<circle cx="403.2" cy="371.08" r="2.2" fill="#d070a8"/>
<line x1="388.5" y1="378.96" x2="414.2" y2="378.96" stroke="#e4a8cc" stroke-width="1.0"/>
<circle cx="401.6" cy="378.96" r="2.2" fill="#d070a8"/>
<line x1="386.0" y1="386.84" x2="413.8" y2="386.84" stroke="#e2aace" stroke-width="1.0"/>
<circle cx="400.5" cy="386.84" r="2.2" fill="#cc72aa"/>
<line x1="380.6" y1="394.72" x2="413.8" y2="394.72" stroke="#dcaed4" stroke-width="1.0"/>
<circle cx="398.8" cy="394.72" r="2.2" fill="#c078b8"/>
<text transform="translate(427.30,342.30) scale(0.79,1)" text-anchor="start" style="font-size:9.0px" fill="#222" stroke="#222" stroke-width="0.15">-log<tspan dy="1.80" style="font-size:6.12px">10</tspan><tspan dy="-1.80">(FDR)</tspan></text>
<rect x="441.4" y="349.6" width="4.6" height="49.6" fill="url(#fdrg)"/>
<text x="448.20" y="353.50" text-anchor="start" style="font-size:6.7px;" fill="#222"  stroke="#222" stroke-width="0.2">4</text>
<text x="448.20" y="365.20" text-anchor="start" style="font-size:6.7px;" fill="#222"  stroke="#222" stroke-width="0.2">3</text>
<text x="448.20" y="377.00" text-anchor="start" style="font-size:6.7px;" fill="#222"  stroke="#222" stroke-width="0.2">2</text>
<text x="448.20" y="388.10" text-anchor="start" style="font-size:6.7px;" fill="#222"  stroke="#222" stroke-width="0.2">1</text>
<text x="448.20" y="399.60" text-anchor="start" style="font-size:6.7px;" fill="#222"  stroke="#222" stroke-width="0.2">0</text>
<text x="64.50" y="475.00" text-anchor="middle" style="font-size:6.8px;" fill="#222"  stroke="#222" stroke-width="0.08">ATO-6h</text>
<g stroke="#acd6f6" stroke-width="1.2" fill="none">
<line x1="55.80" y1="484.20" x2="62.80" y2="501.50"/>
<line x1="62.80" y1="501.50" x2="84.60" y2="550.10"/>
<line x1="115.10" y1="553.90" x2="136.40" y2="556.40"/>
<line x1="82.30" y1="508.50" x2="61.20" y2="540.60"/>
<line x1="39.30" y1="537.00" x2="61.20" y2="540.60"/>
<line x1="61.20" y1="540.60" x2="84.60" y2="550.10"/>
<line x1="61.20" y1="540.60" x2="55.40" y2="557.30"/>
<line x1="55.40" y1="557.30" x2="68.30" y2="555.50"/>
<line x1="68.30" y1="555.50" x2="84.60" y2="550.10"/>
<line x1="55.40" y1="557.30" x2="68.50" y2="565.40"/>
<line x1="68.50" y1="565.40" x2="84.60" y2="550.10"/>
<line x1="84.60" y1="550.10" x2="101.00" y2="540.00"/>
<line x1="84.60" y1="550.10" x2="115.10" y2="553.90"/>
<line x1="84.60" y1="550.10" x2="100.60" y2="563.50"/>
<line x1="84.60" y1="550.10" x2="88.60" y2="570.80"/>
</g>
<polygon points="61.97,499.46 59.84,497.52 62.16,496.58" fill="#66aeec"/>
<polygon points="63.70,503.51 65.91,505.37 63.62,506.39" fill="#66aeec"/>
<polygon points="83.70,548.09 81.49,546.23 83.78,545.21" fill="#66aeec"/>
<polygon points="59.03,540.24 56.26,541.05 56.67,538.59" fill="#66aeec"/>
<polygon points="62.41,538.76 62.79,535.90 64.88,537.28" fill="#66aeec"/>
<polygon points="56.12,555.22 55.79,552.36 58.16,553.18" fill="#66aeec"/>
<polygon points="82.56,549.27 79.68,549.45 80.62,547.14" fill="#66aeec"/>
<polygon points="66.12,555.80 63.72,557.40 63.37,554.93" fill="#66aeec"/>
<polygon points="82.51,550.79 80.44,552.80 79.65,550.42" fill="#66aeec"/>
<polygon points="83.01,551.62 81.98,554.31 80.26,552.50" fill="#66aeec"/>
<polygon points="86.47,548.95 88.03,546.52 89.34,548.65" fill="#66aeec"/>
<polygon points="112.92,553.63 110.18,554.55 110.49,552.07" fill="#66aeec"/>
<polygon points="117.29,554.16 120.01,553.22 119.72,555.70" fill="#66aeec"/>
<polygon points="98.68,561.89 95.89,561.18 97.49,559.27" fill="#66aeec"/>
<polygon points="87.78,566.58 86.06,564.26 88.52,563.79" fill="#66aeec"/>
<circle cx="55.80" cy="484.20" r="0.9" fill="#c07858"/>
<circle cx="62.80" cy="501.50" r="0.9" fill="#e0b090"/>
<circle cx="82.30" cy="508.50" r="1.2" fill="#202888"/>
<circle cx="73.30" cy="524.50" r="1.2" fill="#cdc9c4"/>
<circle cx="39.30" cy="537.00" r="0.8" fill="#eeead0"/>
<circle cx="61.20" cy="540.60" r="0.8" fill="#e4e0dc"/>
<circle cx="84.60" cy="550.10" r="0.8" fill="#e0dcd8"/>
<circle cx="101.00" cy="540.00" r="3.0" fill="#5058b0"/>
<circle cx="115.10" cy="553.90" r="0.8" fill="#e4e0dc"/>
<circle cx="136.40" cy="556.40" r="0.8" fill="#eeead0"/>
<circle cx="100.60" cy="563.50" r="1.2" fill="#202888"/>
<circle cx="88.60" cy="570.80" r="3.0" fill="#3840a0"/>
<circle cx="68.50" cy="565.40" r="3.2" fill="#7078c0"/>
<circle cx="55.40" cy="557.30" r="0.8" fill="#e8e0d0"/>
<circle cx="68.30" cy="555.50" r="0.8" fill="#e4e0dc"/>
<text x="39.50" y="489.90" text-anchor="start" style="font-size:5.0px;" fill="#333"  stroke="#333" stroke-width="0.2">RRM2</text>
<text x="47.70" y="505.70" text-anchor="start" style="font-size:5.0px;" fill="#333"  stroke="#333" stroke-width="0.2">PKM</text>
<text x="80.00" y="505.70" text-anchor="start" style="font-size:5.0px;" fill="#333"  stroke="#333" stroke-width="0.2">RUNX2</text>
<text x="76.20" y="527.00" text-anchor="start" style="font-size:5.0px;" fill="#333"  stroke="#333" stroke-width="0.2">PRKACG</text>
<text x="39.60" y="533.50" text-anchor="start" style="font-size:5.0px;" fill="#333"  stroke="#333" stroke-width="0.2">SUCNR1</text>
<text x="62.90" y="542.20" text-anchor="start" style="font-size:5.0px;" fill="#333"  stroke="#333" stroke-width="0.2">GNAI3</text>
<text x="84.20" y="556.90" text-anchor="start" style="font-size:5.0px;" fill="#333"  stroke="#333" stroke-width="0.2">MAPK1</text>
<text x="104.00" y="537.30" text-anchor="start" style="font-size:5.0px;" fill="#333"  stroke="#333" stroke-width="0.2">ARRB1</text>
<text x="109.70" y="551.40" text-anchor="start" style="font-size:5.0px;" fill="#333"  stroke="#333" stroke-width="0.2">BCL2</text>
<text x="125.90" y="563.20" text-anchor="start" style="font-size:5.0px;" fill="#333"  stroke="#333" stroke-width="0.2">CTSH</text>
<text x="101.90" y="568.50" text-anchor="start" style="font-size:5.0px;" fill="#333"  stroke="#333" stroke-width="0.2">SMAD3</text>
<text x="72.70" y="574.00" text-anchor="start" style="font-size:5.0px;" fill="#333"  stroke="#333" stroke-width="0.2">ETS1</text>
<text x="47.90" y="571.60" text-anchor="start" style="font-size:5.0px;" fill="#333"  stroke="#333" stroke-width="0.2">PTPN6</text>
<text x="35.20" y="559.00" text-anchor="start" style="font-size:5.0px;" fill="#333"  stroke="#333" stroke-width="0.2">PIK3CD</text>
<text x="61.70" y="554.00" text-anchor="start" style="font-size:5.0px;" fill="#333"  stroke="#333" stroke-width="0.2">PRKCD</text>
<text x="174.50" y="475.00" text-anchor="middle" style="font-size:6.8px;" fill="#222"  stroke="#222" stroke-width="0.08">ATO-12h</text>
<g stroke="#acd6f6" stroke-width="1.2" fill="none">
<line x1="166.90" y1="484.20" x2="173.90" y2="501.50"/>
<line x1="173.90" y1="501.50" x2="195.70" y2="550.10"/>
<line x1="226.20" y1="553.90" x2="247.50" y2="556.40"/>
<line x1="193.40" y1="508.50" x2="172.30" y2="540.60"/>
<line x1="150.40" y1="537.00" x2="172.30" y2="540.60"/>
<line x1="172.30" y1="540.60" x2="195.70" y2="550.10"/>
<line x1="172.30" y1="540.60" x2="166.50" y2="557.30"/>
<line x1="166.50" y1="557.30" x2="179.40" y2="555.50"/>
<line x1="179.40" y1="555.50" x2="195.70" y2="550.10"/>
<line x1="166.50" y1="557.30" x2="179.60" y2="565.40"/>
<line x1="179.60" y1="565.40" x2="195.70" y2="550.10"/>
<line x1="195.70" y1="550.10" x2="212.10" y2="540.00"/>
<line x1="195.70" y1="550.10" x2="226.20" y2="553.90"/>
<line x1="195.70" y1="550.10" x2="211.70" y2="563.50"/>
<line x1="195.70" y1="550.10" x2="199.70" y2="570.80"/>
</g>
<polygon points="173.07,499.46 170.94,497.52 173.26,496.58" fill="#66aeec"/>
<polygon points="174.80,503.51 177.01,505.37 174.72,506.39" fill="#66aeec"/>
<polygon points="194.80,548.09 192.59,546.23 194.88,545.21" fill="#66aeec"/>
<polygon points="170.13,540.24 167.36,541.05 167.77,538.59" fill="#66aeec"/>
<polygon points="173.51,538.76 173.89,535.90 175.98,537.28" fill="#66aeec"/>
<polygon points="167.22,555.22 166.89,552.36 169.26,553.18" fill="#66aeec"/>
<polygon points="193.66,549.27 190.78,549.45 191.72,547.14" fill="#66aeec"/>
<polygon points="177.22,555.80 174.82,557.40 174.47,554.93" fill="#66aeec"/>
<polygon points="193.61,550.79 191.54,552.80 190.75,550.42" fill="#66aeec"/>
<polygon points="194.11,551.62 193.08,554.31 191.36,552.50" fill="#66aeec"/>
<polygon points="197.57,548.95 199.13,546.52 200.44,548.65" fill="#66aeec"/>
<polygon points="224.02,553.63 221.28,554.55 221.59,552.07" fill="#66aeec"/>
<polygon points="228.39,554.16 231.11,553.22 230.82,555.70" fill="#66aeec"/>
<polygon points="209.86,561.96 207.06,561.25 208.67,559.33" fill="#66aeec"/>
<polygon points="198.83,566.28 197.11,563.97 199.56,563.49" fill="#66aeec"/>
<circle cx="166.90" cy="484.20" r="0.9" fill="#a05030"/>
<circle cx="173.90" cy="501.50" r="0.9" fill="#e0b090"/>
<circle cx="193.40" cy="508.50" r="2.75" fill="#202888"/>
<circle cx="184.40" cy="524.50" r="1.2" fill="#cdc9c4"/>
<circle cx="150.40" cy="537.00" r="0.9" fill="#9090c0"/>
<circle cx="172.30" cy="540.60" r="0.8" fill="#e4e0dc"/>
<circle cx="195.70" cy="550.10" r="0.8" fill="#e0dcd8"/>
<circle cx="212.10" cy="540.00" r="3.2" fill="#6068b4"/>
<circle cx="226.20" cy="553.90" r="0.8" fill="#e4e0dc"/>
<circle cx="247.50" cy="556.40" r="3.3" fill="#5058a8"/>
<circle cx="211.70" cy="563.50" r="1.1" fill="#6a5a90"/>
<circle cx="199.70" cy="570.80" r="3.3" fill="#1e2484"/>
<circle cx="179.60" cy="565.40" r="3.3" fill="#a0a4d0"/>
<circle cx="166.50" cy="557.30" r="0.9" fill="#e0c090"/>
<circle cx="179.40" cy="555.50" r="0.8" fill="#ece8d8"/>
<text x="295.00" y="475.00" text-anchor="middle" style="font-size:6.8px;" fill="#222"  stroke="#222" stroke-width="0.08">ATO-24h</text>
<g stroke="#acd6f6" stroke-width="1.2" fill="none">
<line x1="286.80" y1="484.20" x2="293.80" y2="501.50"/>
<line x1="293.80" y1="501.50" x2="315.60" y2="550.10"/>
<line x1="346.10" y1="553.90" x2="367.40" y2="556.40"/>
<line x1="313.30" y1="508.50" x2="292.20" y2="540.60"/>
<line x1="270.30" y1="537.00" x2="292.20" y2="540.60"/>
<line x1="292.20" y1="540.60" x2="315.60" y2="550.10"/>
<line x1="292.20" y1="540.60" x2="286.40" y2="557.30"/>
<line x1="286.40" y1="557.30" x2="299.30" y2="555.50"/>
<line x1="299.30" y1="555.50" x2="315.60" y2="550.10"/>
<line x1="286.40" y1="557.30" x2="299.50" y2="565.40"/>
<line x1="299.50" y1="565.40" x2="315.60" y2="550.10"/>
<line x1="315.60" y1="550.10" x2="332.00" y2="540.00"/>
<line x1="315.60" y1="550.10" x2="346.10" y2="553.90"/>
<line x1="315.60" y1="550.10" x2="331.60" y2="563.50"/>
<line x1="315.60" y1="550.10" x2="319.60" y2="570.80"/>
</g>
<polygon points="292.97,499.46 290.84,497.52 293.16,496.58" fill="#66aeec"/>
<polygon points="294.70,503.51 296.91,505.37 294.62,506.39" fill="#66aeec"/>
<polygon points="314.70,548.09 312.49,546.23 314.78,545.21" fill="#66aeec"/>
<polygon points="290.03,540.24 287.26,541.05 287.67,538.59" fill="#66aeec"/>
<polygon points="293.41,538.76 293.79,535.90 295.88,537.28" fill="#66aeec"/>
<polygon points="287.81,553.24 287.48,550.37 289.84,551.19" fill="#66aeec"/>
<polygon points="313.56,549.27 310.68,549.45 311.62,547.14" fill="#66aeec"/>
<polygon points="294.74,556.14 292.34,557.73 292.00,555.26" fill="#66aeec"/>
<polygon points="313.51,550.79 311.44,552.80 310.65,550.42" fill="#66aeec"/>
<polygon points="314.01,551.62 312.98,554.31 311.26,552.50" fill="#66aeec"/>
<polygon points="317.47,548.95 319.03,546.52 320.34,548.65" fill="#66aeec"/>
<polygon points="343.92,553.63 341.18,554.55 341.49,552.07" fill="#66aeec"/>
<polygon points="348.29,554.16 351.01,553.22 350.72,555.70" fill="#66aeec"/>
<polygon points="329.91,562.09 327.12,561.38 328.72,559.46" fill="#66aeec"/>
<polygon points="318.73,566.28 317.01,563.97 319.46,563.49" fill="#66aeec"/>
<circle cx="286.80" cy="484.20" r="0.9" fill="#ece8d0"/>
<circle cx="293.80" cy="501.50" r="0.9" fill="#c07050"/>
<circle cx="313.30" cy="508.50" r="2.75" fill="#3840a0"/>
<circle cx="304.30" cy="524.50" r="1.2" fill="#cdc9c4"/>
<circle cx="270.30" cy="537.00" r="1.2" fill="#3030a0"/>
<circle cx="292.20" cy="540.60" r="0.8" fill="#e4e0dc"/>
<circle cx="315.60" cy="550.10" r="0.8" fill="#e0dcd8"/>
<circle cx="332.00" cy="540.00" r="0.9" fill="#ece8d8"/>
<circle cx="346.10" cy="553.90" r="0.8" fill="#e4e0dc"/>
<circle cx="367.40" cy="556.40" r="3.3" fill="#5058ac"/>
<circle cx="331.60" cy="563.50" r="0.9" fill="#e8dcc8"/>
<circle cx="319.60" cy="570.80" r="3.3" fill="#1a2080"/>
<circle cx="299.50" cy="565.40" r="0.9" fill="#ece4d0"/>
<circle cx="286.40" cy="557.30" r="3.0" fill="#c49c88"/>
<circle cx="299.30" cy="555.50" r="3.3" fill="#c09480"/>
<text x="65.70" y="593.10" text-anchor="middle" style="font-size:6.8px;" fill="#222"  stroke="#222" stroke-width="0.08">ATRA-6h</text>
<g stroke="#acd6f6" stroke-width="1.2" fill="none">
<line x1="55.80" y1="601.70" x2="62.80" y2="619.00"/>
<line x1="62.80" y1="619.00" x2="84.60" y2="667.60"/>
<line x1="115.10" y1="671.40" x2="136.40" y2="673.90"/>
<line x1="82.30" y1="626.00" x2="61.20" y2="658.10"/>
<line x1="43.00" y1="654.80" x2="61.20" y2="658.10"/>
<line x1="61.20" y1="658.10" x2="84.60" y2="667.60"/>
<line x1="61.20" y1="658.10" x2="55.40" y2="674.80"/>
<line x1="55.40" y1="674.80" x2="68.30" y2="673.00"/>
<line x1="68.30" y1="673.00" x2="84.60" y2="667.60"/>
<line x1="55.40" y1="674.80" x2="68.50" y2="682.90"/>
<line x1="68.50" y1="682.90" x2="84.60" y2="667.60"/>
<line x1="84.60" y1="667.60" x2="101.00" y2="657.50"/>
<line x1="84.60" y1="667.60" x2="115.10" y2="671.40"/>
<line x1="84.60" y1="667.60" x2="100.60" y2="681.00"/>
<line x1="84.60" y1="667.60" x2="88.60" y2="688.30"/>
</g>
<polygon points="61.97,616.96 59.84,615.02 62.16,614.08" fill="#66aeec"/>
<polygon points="63.70,621.01 65.91,622.87 63.62,623.89" fill="#66aeec"/>
<polygon points="83.70,665.59 81.49,663.73 83.78,662.71" fill="#66aeec"/>
<polygon points="59.04,657.71 56.25,658.47 56.70,656.01" fill="#66aeec"/>
<polygon points="62.41,656.26 62.79,653.40 64.88,654.78" fill="#66aeec"/>
<polygon points="56.12,672.72 55.79,669.86 58.16,670.68" fill="#66aeec"/>
<polygon points="82.56,666.77 79.68,666.95 80.62,664.64" fill="#66aeec"/>
<polygon points="63.35,673.69 60.95,675.29 60.60,672.81" fill="#66aeec"/>
<polygon points="82.51,668.29 80.44,670.30 79.65,667.92" fill="#66aeec"/>
<polygon points="83.01,669.12 81.98,671.81 80.26,670.00" fill="#66aeec"/>
<polygon points="86.47,666.45 88.03,664.02 89.34,666.15" fill="#66aeec"/>
<polygon points="112.92,671.13 110.18,672.05 110.49,669.57" fill="#66aeec"/>
<polygon points="117.29,671.66 120.01,670.72 119.72,673.20" fill="#66aeec"/>
<polygon points="97.07,678.05 94.28,677.34 95.88,675.42" fill="#66aeec"/>
<polygon points="87.78,684.08 86.06,681.76 88.52,681.29" fill="#66aeec"/>
<circle cx="55.80" cy="601.70" r="0.9" fill="#b06040"/>
<circle cx="62.80" cy="619.00" r="0.9" fill="#e0b090"/>
<circle cx="82.30" cy="626.00" r="1.1" fill="#202888"/>
<circle cx="73.30" cy="642.00" r="1.2" fill="#cdc9c4"/>
<circle cx="43.00" cy="654.80" r="3.5" fill="#801a14"/>
<circle cx="61.20" cy="658.10" r="0.8" fill="#e4e0dc"/>
<circle cx="84.60" cy="667.60" r="0.8" fill="#e0dcd8"/>
<circle cx="101.00" cy="657.50" r="0.8" fill="#dcdcdc"/>
<circle cx="115.10" cy="671.40" r="0.8" fill="#e4e0dc"/>
<circle cx="136.40" cy="673.90" r="0.8" fill="#e0e0e0"/>
<circle cx="100.60" cy="681.00" r="3.3" fill="#a04030"/>
<circle cx="88.60" cy="688.30" r="3.0" fill="#5060b8"/>
<circle cx="68.50" cy="682.90" r="0.9" fill="#e0b090"/>
<circle cx="55.40" cy="674.80" r="0.9" fill="#e0b090"/>
<circle cx="68.30" cy="673.00" r="3.7" fill="#c09080"/>
<text x="39.50" y="607.40" text-anchor="start" style="font-size:5.0px;" fill="#333"  stroke="#333" stroke-width="0.2">RRM2</text>
<text x="47.70" y="623.20" text-anchor="start" style="font-size:5.0px;" fill="#333"  stroke="#333" stroke-width="0.2">PKM</text>
<text x="80.00" y="623.20" text-anchor="start" style="font-size:5.0px;" fill="#333"  stroke="#333" stroke-width="0.2">RUNX2</text>
<text x="76.20" y="644.50" text-anchor="start" style="font-size:5.0px;" fill="#333"  stroke="#333" stroke-width="0.2">PRKACG</text>
<text x="38.40" y="650.40" text-anchor="start" style="font-size:5.0px;" fill="#333"  stroke="#333" stroke-width="0.2">SUCNR1</text>
<text x="62.90" y="659.70" text-anchor="start" style="font-size:5.0px;" fill="#333"  stroke="#333" stroke-width="0.2">GNAI3</text>
<text x="84.20" y="674.40" text-anchor="start" style="font-size:5.0px;" fill="#333"  stroke="#333" stroke-width="0.2">MAPK1</text>
<text x="104.00" y="654.80" text-anchor="start" style="font-size:5.0px;" fill="#333"  stroke="#333" stroke-width="0.2">ARRB1</text>
<text x="109.70" y="668.90" text-anchor="start" style="font-size:5.0px;" fill="#333"  stroke="#333" stroke-width="0.2">BCL2</text>
<text x="125.90" y="680.70" text-anchor="start" style="font-size:5.0px;" fill="#333"  stroke="#333" stroke-width="0.2">CTSH</text>
<text x="104.00" y="686.40" text-anchor="start" style="font-size:5.0px;" fill="#333"  stroke="#333" stroke-width="0.2">SMAD3</text>
<text x="73.40" y="691.30" text-anchor="start" style="font-size:5.0px;" fill="#333"  stroke="#333" stroke-width="0.2">ETS1</text>
<text x="47.90" y="689.10" text-anchor="start" style="font-size:5.0px;" fill="#333"  stroke="#333" stroke-width="0.2">PTPN6</text>
<text x="35.20" y="676.50" text-anchor="start" style="font-size:5.0px;" fill="#333"  stroke="#333" stroke-width="0.2">PIK3CD</text>
<text x="60.20" y="669.00" text-anchor="start" style="font-size:5.0px;" fill="#333"  stroke="#333" stroke-width="0.2">PRKCD</text>
<text x="178.20" y="593.10" text-anchor="middle" style="font-size:6.8px;" fill="#222"  stroke="#222" stroke-width="0.08">ATRA-12h</text>
<g stroke="#acd6f6" stroke-width="1.2" fill="none">
<line x1="171.60" y1="601.70" x2="178.60" y2="619.00"/>
<line x1="178.60" y1="619.00" x2="200.40" y2="667.60"/>
<line x1="230.90" y1="671.40" x2="252.20" y2="673.90"/>
<line x1="198.10" y1="626.00" x2="177.00" y2="658.10"/>
<line x1="155.10" y1="654.50" x2="177.00" y2="658.10"/>
<line x1="177.00" y1="658.10" x2="200.40" y2="667.60"/>
<line x1="177.00" y1="658.10" x2="171.20" y2="674.80"/>
<line x1="171.20" y1="674.80" x2="184.10" y2="673.00"/>
<line x1="184.10" y1="673.00" x2="200.40" y2="667.60"/>
<line x1="171.20" y1="674.80" x2="184.30" y2="682.90"/>
<line x1="184.30" y1="682.90" x2="200.40" y2="667.60"/>
<line x1="200.40" y1="667.60" x2="216.80" y2="657.50"/>
<line x1="200.40" y1="667.60" x2="230.90" y2="671.40"/>
<line x1="200.40" y1="667.60" x2="216.40" y2="681.00"/>
<line x1="200.40" y1="667.60" x2="204.40" y2="688.30"/>
</g>
<polygon points="177.06,615.20 174.93,613.26 177.25,612.32" fill="#66aeec"/>
<polygon points="180.28,622.74 182.48,624.60 180.20,625.62" fill="#66aeec"/>
<polygon points="199.50,665.59 197.29,663.73 199.58,662.71" fill="#66aeec"/>
<polygon points="174.83,657.74 172.06,658.55 172.47,656.09" fill="#66aeec"/>
<polygon points="178.21,656.26 178.59,653.40 180.68,654.78" fill="#66aeec"/>
<polygon points="172.71,670.45 172.38,667.59 174.74,668.41" fill="#66aeec"/>
<polygon points="198.36,666.77 195.48,666.95 196.42,664.64" fill="#66aeec"/>
<polygon points="179.54,673.64 177.14,675.23 176.80,672.76" fill="#66aeec"/>
<polygon points="198.31,668.29 196.24,670.30 195.45,667.92" fill="#66aeec"/>
<polygon points="198.81,669.12 197.78,671.81 196.06,670.00" fill="#66aeec"/>
<polygon points="202.27,666.45 203.83,664.02 205.14,666.15" fill="#66aeec"/>
<polygon points="228.72,671.13 225.98,672.05 226.29,669.57" fill="#66aeec"/>
<polygon points="233.09,671.66 235.81,670.72 235.52,673.20" fill="#66aeec"/>
<polygon points="213.03,678.17 210.23,677.46 211.84,675.55" fill="#66aeec"/>
<polygon points="203.98,686.14 202.26,683.82 204.72,683.35" fill="#66aeec"/>
<circle cx="171.60" cy="601.70" r="2.7" fill="#a05848"/>
<circle cx="178.60" cy="619.00" r="2.8" fill="#b06050"/>
<circle cx="198.10" cy="626.00" r="1.1" fill="#202888"/>
<circle cx="189.10" cy="642.00" r="1.2" fill="#cdc9c4"/>
<circle cx="155.10" cy="654.50" r="3.5" fill="#801a10"/>
<circle cx="177.00" cy="658.10" r="0.8" fill="#e4e0dc"/>
<circle cx="200.40" cy="667.60" r="0.8" fill="#e0dcd8"/>
<circle cx="216.80" cy="657.50" r="0.9" fill="#e8d0b0"/>
<circle cx="230.90" cy="671.40" r="0.8" fill="#e4e0dc"/>
<circle cx="252.20" cy="673.90" r="3.4" fill="#5060b0"/>
<circle cx="216.40" cy="681.00" r="3.1" fill="#a04030"/>
<circle cx="204.40" cy="688.30" r="0.9" fill="#ece8d8"/>
<circle cx="184.30" cy="682.90" r="3.4" fill="#c09080"/>
<circle cx="171.20" cy="674.80" r="3.3" fill="#b07060"/>
<circle cx="184.10" cy="673.00" r="3.3" fill="#b07060"/>
<text x="297.70" y="593.10" text-anchor="middle" style="font-size:6.8px;" fill="#222"  stroke="#222" stroke-width="0.08">ATRA-24h</text>
<g stroke="#acd6f6" stroke-width="1.2" fill="none">
<line x1="291.60" y1="601.70" x2="298.60" y2="619.00"/>
<line x1="298.60" y1="619.00" x2="320.40" y2="667.60"/>
<line x1="350.90" y1="671.40" x2="372.20" y2="673.90"/>
<line x1="318.10" y1="626.00" x2="297.00" y2="658.10"/>
<line x1="275.10" y1="654.50" x2="297.00" y2="658.10"/>
<line x1="297.00" y1="658.10" x2="320.40" y2="667.60"/>
<line x1="297.00" y1="658.10" x2="291.20" y2="674.80"/>
<line x1="291.20" y1="674.80" x2="304.10" y2="673.00"/>
<line x1="304.10" y1="673.00" x2="320.40" y2="667.60"/>
<line x1="291.20" y1="674.80" x2="304.30" y2="682.90"/>
<line x1="304.30" y1="682.90" x2="320.40" y2="667.60"/>
<line x1="320.40" y1="667.60" x2="336.80" y2="657.50"/>
<line x1="320.40" y1="667.60" x2="350.90" y2="671.40"/>
<line x1="320.40" y1="667.60" x2="336.40" y2="681.00"/>
<line x1="320.40" y1="667.60" x2="324.40" y2="688.30"/>
</g>
<polygon points="296.84,614.64 294.70,612.70 297.02,611.76" fill="#66aeec"/>
<polygon points="300.52,623.29 302.73,625.15 300.45,626.17" fill="#66aeec"/>
<polygon points="319.50,665.59 317.29,663.73 319.58,662.71" fill="#66aeec"/>
<polygon points="294.83,657.74 292.06,658.55 292.47,656.09" fill="#66aeec"/>
<polygon points="298.21,656.26 298.59,653.40 300.68,654.78" fill="#66aeec"/>
<polygon points="292.71,670.45 292.38,667.59 294.74,668.41" fill="#66aeec"/>
<polygon points="318.36,666.77 315.48,666.95 316.42,664.64" fill="#66aeec"/>
<polygon points="299.54,673.64 297.14,675.23 296.80,672.76" fill="#66aeec"/>
<polygon points="318.31,668.29 316.24,670.30 315.45,667.92" fill="#66aeec"/>
<polygon points="318.81,669.12 317.78,671.81 316.06,670.00" fill="#66aeec"/>
<polygon points="322.27,666.45 323.83,664.02 325.14,666.15" fill="#66aeec"/>
<polygon points="348.72,671.13 345.98,672.05 346.29,669.57" fill="#66aeec"/>
<polygon points="353.09,671.66 355.81,670.72 355.52,673.20" fill="#66aeec"/>
<polygon points="334.71,679.59 331.92,678.88 333.52,676.96" fill="#66aeec"/>
<polygon points="323.98,686.14 322.26,683.82 324.72,683.35" fill="#66aeec"/>
<circle cx="291.60" cy="601.70" r="2.7" fill="#a06050"/>
<circle cx="298.60" cy="619.00" r="3.4" fill="#8c2818"/>
<circle cx="318.10" cy="626.00" r="3.2" fill="#1e2888"/>
<circle cx="309.10" cy="642.00" r="1.2" fill="#cdc9c4"/>
<circle cx="275.10" cy="654.50" r="3.5" fill="#801a10"/>
<circle cx="297.00" cy="658.10" r="0.8" fill="#e4e0dc"/>
<circle cx="320.40" cy="667.60" r="0.8" fill="#e0dcd8"/>
<circle cx="336.80" cy="657.50" r="0.9" fill="#e8c8a8"/>
<circle cx="350.90" cy="671.40" r="0.8" fill="#e4e0dc"/>
<circle cx="372.20" cy="673.90" r="3.4" fill="#1e2888"/>
<circle cx="336.40" cy="681.00" r="0.9" fill="#d8a888"/>
<circle cx="324.40" cy="688.30" r="0.9" fill="#e8e0d8"/>
<circle cx="304.30" cy="682.90" r="3.4" fill="#a86050"/>
<circle cx="291.20" cy="674.80" r="3.3" fill="#a86050"/>
<circle cx="304.10" cy="673.00" r="3.3" fill="#a86050"/>
<text x="416.60" y="593.10" text-anchor="middle" style="font-size:6.8px;" fill="#222"  stroke="#222" stroke-width="0.08">ATRA-48h</text>
<g stroke="#acd6f6" stroke-width="1.2" fill="none">
<line x1="411.60" y1="601.70" x2="418.60" y2="619.00"/>
<line x1="418.60" y1="619.00" x2="440.40" y2="667.60"/>
<line x1="470.90" y1="671.40" x2="492.20" y2="673.90"/>
<line x1="438.10" y1="626.00" x2="417.00" y2="658.10"/>
<line x1="395.10" y1="654.50" x2="417.00" y2="658.10"/>
<line x1="417.00" y1="658.10" x2="440.40" y2="667.60"/>
<line x1="417.00" y1="658.10" x2="411.20" y2="674.80"/>
<line x1="411.20" y1="674.80" x2="424.10" y2="673.00"/>
<line x1="424.10" y1="673.00" x2="440.40" y2="667.60"/>
<line x1="411.20" y1="674.80" x2="424.30" y2="682.90"/>
<line x1="424.30" y1="682.90" x2="440.40" y2="667.60"/>
<line x1="440.40" y1="667.60" x2="456.80" y2="657.50"/>
<line x1="440.40" y1="667.60" x2="470.90" y2="671.40"/>
<line x1="440.40" y1="667.60" x2="456.40" y2="681.00"/>
<line x1="440.40" y1="667.60" x2="444.40" y2="688.30"/>
</g>
<polygon points="416.91,614.83 414.78,612.89 417.10,611.95" fill="#66aeec"/>
<polygon points="420.44,623.11 422.65,624.97 420.37,625.99" fill="#66aeec"/>
<polygon points="439.50,665.59 437.29,663.73 439.58,662.71" fill="#66aeec"/>
<polygon points="414.83,657.74 412.06,658.55 412.47,656.09" fill="#66aeec"/>
<polygon points="418.21,656.26 418.59,653.40 420.68,654.78" fill="#66aeec"/>
<polygon points="412.71,670.45 412.38,667.59 414.74,668.41" fill="#66aeec"/>
<polygon points="438.36,666.77 435.48,666.95 436.42,664.64" fill="#66aeec"/>
<polygon points="419.35,673.66 416.94,675.26 416.60,672.78" fill="#66aeec"/>
<polygon points="438.31,668.29 436.24,670.30 435.45,667.92" fill="#66aeec"/>
<polygon points="438.81,669.12 437.78,671.81 436.06,670.00" fill="#66aeec"/>
<polygon points="442.27,666.45 443.83,664.02 445.14,666.15" fill="#66aeec"/>
<polygon points="468.72,671.13 465.98,672.05 466.29,669.57" fill="#66aeec"/>
<polygon points="473.09,671.66 475.81,670.72 475.52,673.20" fill="#66aeec"/>
<polygon points="454.71,679.59 451.92,678.88 453.52,676.96" fill="#66aeec"/>
<polygon points="443.98,686.14 442.26,683.82 444.72,683.35" fill="#66aeec"/>
<circle cx="411.60" cy="601.70" r="0.9" fill="#d0a080"/>
<circle cx="418.60" cy="619.00" r="3.2" fill="#a85848"/>
<circle cx="438.10" cy="626.00" r="2.9" fill="#1e2888"/>
<circle cx="429.10" cy="642.00" r="1.2" fill="#cdc9c4"/>
<circle cx="395.10" cy="654.50" r="3.5" fill="#801a10"/>
<circle cx="417.00" cy="658.10" r="0.8" fill="#e4e0dc"/>
<circle cx="440.40" cy="667.60" r="0.8" fill="#e0dcd8"/>
<circle cx="456.80" cy="657.50" r="0.9" fill="#e8c8a8"/>
<circle cx="470.90" cy="671.40" r="0.8" fill="#e4e0dc"/>
<circle cx="492.20" cy="673.90" r="3.4" fill="#1e2888"/>
<circle cx="456.40" cy="681.00" r="0.9" fill="#d8a888"/>
<circle cx="444.40" cy="688.30" r="0.9" fill="#f0ecd8"/>
<circle cx="424.30" cy="682.90" r="3.4" fill="#983828"/>
<circle cx="411.20" cy="674.80" r="3.3" fill="#a85848"/>
<circle cx="424.10" cy="673.00" r="3.5" fill="#b87868"/>
<rect x="28.05" y="702.75" width="467.25" height="107.5" fill="none" stroke="#2a2a2a" stroke-width="1.45"/>
<text x="34.00" y="711.70" text-anchor="start" style="font-size:6.4px;" fill="#111"  stroke="#111" stroke-width="0.2">Target</text>
<text x="63.10" y="711.70" text-anchor="start" style="font-size:6.6px;" fill="#111" textLength="53.7" lengthAdjust="spacingAndGlyphs" stroke="#111" stroke-width="0.2">Disease indication</text>
<text x="158.80" y="711.70" text-anchor="start" style="font-size:6.5px;" fill="#111" textLength="35.1" lengthAdjust="spacingAndGlyphs" stroke="#111" stroke-width="0.2">Approved drug</text>
<text x="34.00" y="719.94" text-anchor="start" style="font-size:6.4px;" fill="#111"  stroke="#111" stroke-width="0.2">PIK3CD</text>
<text x="63.10" y="719.94" text-anchor="start" style="font-size:6.6px;" fill="#111" textLength="80.6" lengthAdjust="spacingAndGlyphs" stroke="#111" stroke-width="0.2">neoplasm of mature B-cells</text>
<text x="158.80" y="719.94" text-anchor="start" style="font-size:6.5px;" fill="#111" textLength="229.6" lengthAdjust="spacingAndGlyphs" stroke="#111" stroke-width="0.2">COPANLISIB HYDROCHLORIDE (FDA), IDELALISIB (DailyMed &amp; ClinicalTrials)</text>
<text x="34.00" y="728.18" text-anchor="start" style="font-size:6.4px;" fill="#111"  stroke="#111" stroke-width="0.2">PIK3CD</text>
<text x="63.10" y="728.18" text-anchor="start" style="font-size:6.6px;" fill="#111" textLength="74.4" lengthAdjust="spacingAndGlyphs" stroke="#111" stroke-width="0.2">non-Hodgkins lymphoma</text>
<text x="158.80" y="728.18" text-anchor="start" style="font-size:6.5px;" fill="#111" textLength="72.0" lengthAdjust="spacingAndGlyphs" stroke="#111" stroke-width="0.2">IDELALISIB (ClinicalTrials)</text>
<text x="34.00" y="736.42" text-anchor="start" style="font-size:6.4px;" fill="#111"  stroke="#111" stroke-width="0.2">PIK3CD</text>
<text x="63.10" y="736.42" text-anchor="start" style="font-size:6.6px;" fill="#111" textLength="87.3" lengthAdjust="spacingAndGlyphs" stroke="#111" stroke-width="0.2">chronic lymphocytic leukemia</text>
<text x="158.80" y="736.42" text-anchor="start" style="font-size:6.5px;" fill="#111" textLength="111.8" lengthAdjust="spacingAndGlyphs" stroke="#111" stroke-width="0.2">IDELALISIB (DailyMed &amp; ClinicalTrials)</text>
<text x="34.00" y="744.66" text-anchor="start" style="font-size:6.4px;" fill="#111"  stroke="#111" stroke-width="0.2">RRM2</text>
<text x="63.10" y="744.66" text-anchor="start" style="font-size:6.6px;" fill="#111" textLength="29.5" lengthAdjust="spacingAndGlyphs" stroke="#111" stroke-width="0.2">neoplasm</text>
<text x="158.80" y="744.66" text-anchor="start" style="font-size:6.5px;" fill="#111" textLength="223.6" lengthAdjust="spacingAndGlyphs" stroke="#111" stroke-width="0.2">CLOFARABINE (ClinicalTrials &amp; ATC), HYDROXYUREA (ClinicalTrials &amp; ATC),</text>
<text x="158.80" y="752.90" text-anchor="start" style="font-size:6.5px;" fill="#111" textLength="147.1" lengthAdjust="spacingAndGlyphs" stroke="#111" stroke-width="0.2">FLUDARABINE PHOSPHATE (ClinicalTrials &amp; ATC)</text>
<text x="34.00" y="761.14" text-anchor="start" style="font-size:6.4px;" fill="#111"  stroke="#111" stroke-width="0.2">RRM2</text>
<text x="63.10" y="761.14" text-anchor="start" style="font-size:6.6px;" fill="#111" textLength="87.3" lengthAdjust="spacingAndGlyphs" stroke="#111" stroke-width="0.2">chronic lymphocytic leukemia</text>
<text x="158.80" y="761.14" text-anchor="start" style="font-size:6.5px;" fill="#111" textLength="148.1" lengthAdjust="spacingAndGlyphs" stroke="#111" stroke-width="0.2">FLUDARABINE PHOSPHATE (ClinicalTrials &amp; FDA)</text>
<text x="34.00" y="769.38" text-anchor="start" style="font-size:6.4px;" fill="#111"  stroke="#111" stroke-width="0.2">RRM2</text>
<text x="63.10" y="769.38" text-anchor="start" style="font-size:6.6px;" fill="#111" textLength="50.3" lengthAdjust="spacingAndGlyphs" stroke="#111" stroke-width="0.2">breast carcinoma</text>
<text x="158.80" y="769.38" text-anchor="start" style="font-size:6.5px;" fill="#111" textLength="180.8" lengthAdjust="spacingAndGlyphs" stroke="#111" stroke-width="0.2">GEMCITABINE HYDROCHLORIDE (ClinicalTrials &amp; DailyMed)</text>
<text x="34.00" y="777.62" text-anchor="start" style="font-size:6.4px;" fill="#111"  stroke="#111" stroke-width="0.2">RRM2</text>
<text x="63.10" y="777.62" text-anchor="start" style="font-size:6.6px;" fill="#111" textLength="62.8" lengthAdjust="spacingAndGlyphs" stroke="#111" stroke-width="0.2">pancreatic carcinoma</text>
<text x="158.80" y="777.62" text-anchor="start" style="font-size:6.5px;" fill="#111" textLength="180.8" lengthAdjust="spacingAndGlyphs" stroke="#111" stroke-width="0.2">GEMCITABINE HYDROCHLORIDE (ClinicalTrials &amp; DailyMed)</text>
<text x="34.00" y="785.86" text-anchor="start" style="font-size:6.4px;" fill="#111"  stroke="#111" stroke-width="0.2">RRM2</text>
<text x="63.10" y="785.86" text-anchor="start" style="font-size:6.6px;" fill="#111" textLength="87.8" lengthAdjust="spacingAndGlyphs" stroke="#111" stroke-width="0.2">non-small cell lung carcinoma</text>
<text x="158.80" y="785.86" text-anchor="start" style="font-size:6.5px;" fill="#111" textLength="180.8" lengthAdjust="spacingAndGlyphs" stroke="#111" stroke-width="0.2">GEMCITABINE HYDROCHLORIDE (ClinicalTrials &amp; DailyMed)</text>
<text x="34.00" y="794.10" text-anchor="start" style="font-size:6.4px;" fill="#111"  stroke="#111" stroke-width="0.2">RRM2</text>
<text x="63.10" y="794.10" text-anchor="start" style="font-size:6.6px;" fill="#111" textLength="54.1" lengthAdjust="spacingAndGlyphs" stroke="#111" stroke-width="0.2">ovarian carcinoma</text>
<text x="158.80" y="794.10" text-anchor="start" style="font-size:6.5px;" fill="#111" textLength="180.8" lengthAdjust="spacingAndGlyphs" stroke="#111" stroke-width="0.2">GEMCITABINE HYDROCHLORIDE (ClinicalTrials &amp; DailyMed)</text>
<text x="34.00" y="802.34" text-anchor="start" style="font-size:6.4px;" fill="#111"  stroke="#111" stroke-width="0.2">RRM2</text>
<text x="63.10" y="802.34" text-anchor="start" style="font-size:6.6px;" fill="#111" textLength="31.6" lengthAdjust="spacingAndGlyphs" stroke="#111" stroke-width="0.2">melanoma</text>
<text x="158.80" y="802.34" text-anchor="start" style="font-size:6.5px;" fill="#111" textLength="82.0" lengthAdjust="spacingAndGlyphs" stroke="#111" stroke-width="0.2">HYDROXYUREA (DailyMed)</text>
<text transform="translate(415.80,713.40) scale(0.79,1)" text-anchor="start" style="font-size:9.0px" fill="#222" stroke="#222" stroke-width="0.15">log<tspan dy="1.80" style="font-size:6.12px">2</tspan><tspan dy="-1.80">(FC)</tspan></text>
<text transform="translate(449.20,713.40) scale(0.79,1)" text-anchor="start" style="font-size:9.0px" fill="#222" stroke="#222" stroke-width="0.15">-log<tspan dy="1.80" style="font-size:6.12px">10</tspan><tspan dy="-1.80">(FDR)</tspan></text>
<rect x="424.8" y="721.5" width="2.8" height="55.6" fill="url(#fcg)"/>
<text x="431.60" y="724.30" text-anchor="start" style="font-size:6.6px;" fill="#222"  stroke="#222" stroke-width="0.12">1.5</text>
<text x="431.60" y="733.20" text-anchor="start" style="font-size:6.6px;" fill="#222"  stroke="#222" stroke-width="0.12">1.0</text>
<text x="431.60" y="750.90" text-anchor="start" style="font-size:6.6px;" fill="#222"  stroke="#222" stroke-width="0.12">0.0</text>
<text x="430.90" y="769.40" text-anchor="start" style="font-size:6.6px;" fill="#222"  stroke="#222" stroke-width="0.12">-1.0</text>
<text x="430.90" y="778.20" text-anchor="start" style="font-size:6.6px;" fill="#222"  stroke="#222" stroke-width="0.12">-1.5</text>
<circle cx="466.4" cy="723.5" r="0.8" fill="#1a1a1a"/>
<text x="473.00" y="725.90" text-anchor="start" style="font-size:6.6px;" fill="#222"  stroke="#222" stroke-width="0.12">0</text>
<circle cx="466.4" cy="735.4" r="2.2" fill="#1a1a1a"/>
<text x="473.00" y="737.80" text-anchor="start" style="font-size:6.6px;" fill="#222"  stroke="#222" stroke-width="0.12">1</text>
<circle cx="466.4" cy="748.5" r="2.65" fill="#1a1a1a"/>
<text x="473.00" y="750.90" text-anchor="start" style="font-size:6.6px;" fill="#222"  stroke="#222" stroke-width="0.12">2</text>
<circle cx="466.4" cy="761.1" r="3.0" fill="#1a1a1a"/>
<text x="473.00" y="763.50" text-anchor="start" style="font-size:6.6px;" fill="#222"  stroke="#222" stroke-width="0.12">3</text>
<circle cx="466.4" cy="774.6" r="3.5" fill="#1a1a1a"/>
<text x="473.00" y="777.00" text-anchor="start" style="font-size:6.6px;" fill="#222"  stroke="#222" stroke-width="0.12">4</text>
<text x="451.70" y="789.00" text-anchor="middle" style="font-size:6.6px;" fill="#222"  stroke="#222" stroke-width="0.2">Pathway-derived</text>
<text x="451.70" y="797.50" text-anchor="middle" style="font-size:6.6px;" fill="#222"  stroke="#222" stroke-width="0.2">interaction (KEGG)</text>
<line x1="433.7" y1="804.2" x2="464.5" y2="804.2" stroke="#8ec6f0" stroke-width="0.9"/>
<polyline points="462.0,802.6 464.6,804.2 462.0,805.8" fill="none" stroke="#8ec6f0" stroke-width="0.9"/>
<rect x="0.75" y="0.75" width="518.35" height="817.4" fill="none" stroke="#000" stroke-width="1.5"/>
</svg>
</body></html>
